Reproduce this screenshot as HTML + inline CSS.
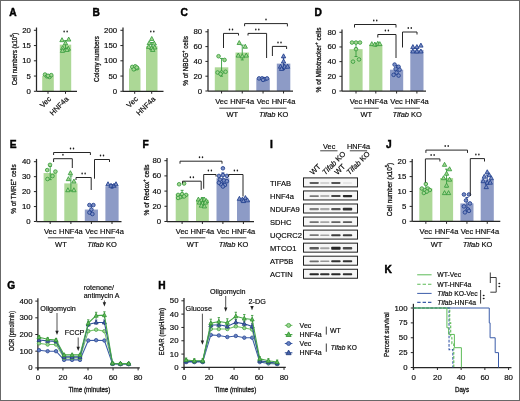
<!DOCTYPE html>
<html><head><meta charset="utf-8"><style>
html,body{margin:0;padding:0;background:#fff;}
svg{display:block;font-family:'Liberation Sans', sans-serif;will-change:transform;}
text{stroke:#1e1e1e;stroke-width:0.18px;}
text[font-weight=bold]{stroke-width:0;}
text.t{stroke-width:0.3px;}
text.pl{stroke:#000;stroke-width:0.45px;}
</style></head><body>
<svg width="520" height="401" viewBox="0 0 520 401">
<defs><filter id="bl" x="-50%" y="-100%" width="200%" height="300%"><feGaussianBlur stdDeviation="0.45"/></filter></defs>
<rect width="520" height="401" fill="#fff"/>
<text x="9.2" y="16.2" font-size="10.2" font-weight="bold" fill="#000" class="pl">A</text>
<line x1="36.5" y1="91.3" x2="36.5" y2="27.5" stroke="#262626" stroke-width="1.25"/>
<line x1="33.9" y1="91.3" x2="36.5" y2="91.3" stroke="#262626" stroke-width="1"/>
<text x="30.9" y="93.8" font-size="7.8" text-anchor="end">0</text>
<line x1="33.9" y1="76.05" x2="36.5" y2="76.05" stroke="#262626" stroke-width="1"/>
<text x="30.9" y="78.55" font-size="7.8" text-anchor="end">5</text>
<line x1="33.9" y1="60.8" x2="36.5" y2="60.8" stroke="#262626" stroke-width="1"/>
<text x="30.9" y="63.3" font-size="7.8" text-anchor="end">10</text>
<line x1="33.9" y1="45.55" x2="36.5" y2="45.55" stroke="#262626" stroke-width="1"/>
<text x="30.9" y="48.05" font-size="7.8" text-anchor="end">15</text>
<line x1="33.9" y1="30.3" x2="36.5" y2="30.3" stroke="#262626" stroke-width="1"/>
<text x="30.9" y="32.8" font-size="7.8" text-anchor="end">20</text>
<text x="17" y="59" font-size="7.9" text-anchor="middle" transform="rotate(-90 17 59)" textLength="52.5" lengthAdjust="spacingAndGlyphs" class="t">Cell numbers (x10<tspan font-size="5" dy="-3">5</tspan><tspan dy="3">)</tspan></text>
<rect x="42.2" y="75.75" width="11.6" height="15.55" fill="#acd896"/>
<line x1="48" y1="76.81" x2="48" y2="74.68" stroke="#369c3c" stroke-width="0.9"/>
<line x1="46.5" y1="74.68" x2="49.5" y2="74.68" stroke="#369c3c" stroke-width="0.9"/>
<line x1="46.5" y1="76.81" x2="49.5" y2="76.81" stroke="#369c3c" stroke-width="0.9"/>
<circle cx="45" cy="74.53" r="1.8" fill="#a5d693" stroke="#369c3c" stroke-width="0.85"/>
<circle cx="47" cy="76.35" r="1.8" fill="#a5d693" stroke="#369c3c" stroke-width="0.85"/>
<circle cx="49.5" cy="76.97" r="1.8" fill="#a5d693" stroke="#369c3c" stroke-width="0.85"/>
<circle cx="51.3" cy="75.13" r="1.8" fill="#a5d693" stroke="#369c3c" stroke-width="0.85"/>
<circle cx="48" cy="75.75" r="1.8" fill="#a5d693" stroke="#369c3c" stroke-width="0.85"/>
<rect x="59.8" y="44.63" width="11.4" height="46.66" fill="#acd896"/>
<line x1="65.5" y1="48.6" x2="65.5" y2="40.67" stroke="#369c3c" stroke-width="0.9"/>
<line x1="64" y1="40.67" x2="67" y2="40.67" stroke="#369c3c" stroke-width="0.9"/>
<line x1="64" y1="48.6" x2="67" y2="48.6" stroke="#369c3c" stroke-width="0.9"/>
<polygon points="62,37.68 64.16,41.68 59.84,41.68" fill="#a5d693" stroke="#369c3c" stroke-width="0.85" stroke-linejoin="round"/>
<polygon points="68.7,37.07 70.86,41.07 66.54,41.07" fill="#a5d693" stroke="#369c3c" stroke-width="0.85" stroke-linejoin="round"/>
<polygon points="65.5,40.73 67.66,44.73 63.34,44.73" fill="#a5d693" stroke="#369c3c" stroke-width="0.85" stroke-linejoin="round"/>
<polygon points="62.7,45.61 64.86,49.61 60.54,49.61" fill="#a5d693" stroke="#369c3c" stroke-width="0.85" stroke-linejoin="round"/>
<polygon points="68.3,46.22 70.46,50.22 66.14,50.22" fill="#a5d693" stroke="#369c3c" stroke-width="0.85" stroke-linejoin="round"/>
<polygon points="62.5,48.36 64.66,52.35 60.34,52.35" fill="#a5d693" stroke="#369c3c" stroke-width="0.85" stroke-linejoin="round"/>
<polygon points="67,47.44 69.16,51.44 64.84,51.44" fill="#a5d693" stroke="#369c3c" stroke-width="0.85" stroke-linejoin="round"/>
<line x1="36.5" y1="91.3" x2="77" y2="91.3" stroke="#262626" stroke-width="1.25"/>
<line x1="48" y1="91.3" x2="48" y2="93.8" stroke="#262626" stroke-width="1"/>
<line x1="65.5" y1="91.3" x2="65.5" y2="93.8" stroke="#262626" stroke-width="1"/>
<ellipse cx="64.1" cy="31.6" rx="0.75" ry="1.0" fill="#1a1a1a"/>
<ellipse cx="67.1" cy="31.6" rx="0.75" ry="1.0" fill="#1a1a1a"/>
<text x="51.6" y="99.5" font-size="7.4" text-anchor="end" transform="rotate(-45 51.6 99.5)">Vec</text>
<text x="69.2" y="99.5" font-size="7.4" text-anchor="end" transform="rotate(-45 69.2 99.5)">HNF4a</text>
<text x="92.5" y="16.2" font-size="10.2" font-weight="bold" fill="#000" class="pl">B</text>
<line x1="123" y1="91.3" x2="123" y2="27.5" stroke="#262626" stroke-width="1.25"/>
<line x1="120.4" y1="91.3" x2="123" y2="91.3" stroke="#262626" stroke-width="1"/>
<text x="117.1" y="93.8" font-size="7.8" text-anchor="end">0</text>
<line x1="120.4" y1="76.05" x2="123" y2="76.05" stroke="#262626" stroke-width="1"/>
<text x="117.1" y="78.55" font-size="7.8" text-anchor="end">50</text>
<line x1="120.4" y1="60.8" x2="123" y2="60.8" stroke="#262626" stroke-width="1"/>
<text x="117.1" y="63.3" font-size="7.8" text-anchor="end">100</text>
<line x1="120.4" y1="45.55" x2="123" y2="45.55" stroke="#262626" stroke-width="1"/>
<text x="117.1" y="48.05" font-size="7.8" text-anchor="end">150</text>
<line x1="120.4" y1="30.3" x2="123" y2="30.3" stroke="#262626" stroke-width="1"/>
<text x="117.1" y="32.8" font-size="7.8" text-anchor="end">200</text>
<text x="98.8" y="59.1" font-size="7.9" text-anchor="middle" transform="rotate(-90 98.8 59.1)" textLength="45.8" lengthAdjust="spacingAndGlyphs" class="t">Colony numbers</text>
<rect x="129" y="68.42" width="11.5" height="22.88" fill="#acd896"/>
<line x1="134.75" y1="70.25" x2="134.75" y2="66.59" stroke="#369c3c" stroke-width="0.9"/>
<line x1="133.25" y1="66.59" x2="136.25" y2="66.59" stroke="#369c3c" stroke-width="0.9"/>
<line x1="133.25" y1="70.25" x2="136.25" y2="70.25" stroke="#369c3c" stroke-width="0.9"/>
<circle cx="132.25" cy="66.9" r="1.8" fill="#a5d693" stroke="#369c3c" stroke-width="0.85"/>
<circle cx="135.25" cy="66.29" r="1.8" fill="#a5d693" stroke="#369c3c" stroke-width="0.85"/>
<circle cx="137.25" cy="68.12" r="1.8" fill="#a5d693" stroke="#369c3c" stroke-width="0.85"/>
<circle cx="133.75" cy="69.34" r="1.8" fill="#a5d693" stroke="#369c3c" stroke-width="0.85"/>
<circle cx="136.75" cy="67.51" r="1.8" fill="#a5d693" stroke="#369c3c" stroke-width="0.85"/>
<rect x="146" y="46.16" width="11.5" height="45.14" fill="#acd896"/>
<line x1="151.75" y1="49.82" x2="151.75" y2="42.5" stroke="#369c3c" stroke-width="0.9"/>
<line x1="150.25" y1="42.5" x2="153.25" y2="42.5" stroke="#369c3c" stroke-width="0.9"/>
<line x1="150.25" y1="49.82" x2="153.25" y2="49.82" stroke="#369c3c" stroke-width="0.9"/>
<polygon points="151.75,36.46 153.91,40.46 149.59,40.46" fill="#a5d693" stroke="#369c3c" stroke-width="0.85" stroke-linejoin="round"/>
<polygon points="149.25,40.73 151.41,44.73 147.09,44.73" fill="#a5d693" stroke="#369c3c" stroke-width="0.85" stroke-linejoin="round"/>
<polygon points="154.25,41.04 156.41,45.03 152.09,45.03" fill="#a5d693" stroke="#369c3c" stroke-width="0.85" stroke-linejoin="round"/>
<polygon points="148.75,44.39 150.91,48.39 146.59,48.39" fill="#a5d693" stroke="#369c3c" stroke-width="0.85" stroke-linejoin="round"/>
<polygon points="151.75,45.61 153.91,49.61 149.59,49.61" fill="#a5d693" stroke="#369c3c" stroke-width="0.85" stroke-linejoin="round"/>
<polygon points="154.75,45 156.91,49 152.59,49" fill="#a5d693" stroke="#369c3c" stroke-width="0.85" stroke-linejoin="round"/>
<polygon points="152.75,47.44 154.91,51.44 150.59,51.44" fill="#a5d693" stroke="#369c3c" stroke-width="0.85" stroke-linejoin="round"/>
<line x1="123" y1="91.3" x2="163.5" y2="91.3" stroke="#262626" stroke-width="1.25"/>
<line x1="134.7" y1="91.3" x2="134.7" y2="93.8" stroke="#262626" stroke-width="1"/>
<line x1="151.7" y1="91.3" x2="151.7" y2="93.8" stroke="#262626" stroke-width="1"/>
<ellipse cx="150.8" cy="31.6" rx="0.75" ry="1.0" fill="#1a1a1a"/>
<ellipse cx="153.8" cy="31.6" rx="0.75" ry="1.0" fill="#1a1a1a"/>
<text x="138.3" y="99.5" font-size="7.4" text-anchor="end" transform="rotate(-45 138.3 99.5)">Vec</text>
<text x="155.9" y="99.5" font-size="7.4" text-anchor="end" transform="rotate(-45 155.9 99.5)">HNF4a</text>
<text x="180.5" y="16.2" font-size="10.2" font-weight="bold" fill="#000" class="pl">C</text>
<text x="188" y="60.9" font-size="7.9" text-anchor="middle" transform="rotate(-90 188 60.9)" textLength="49.6" lengthAdjust="spacingAndGlyphs" class="t">% of NBDG<tspan font-size="5" dy="-3">+</tspan><tspan dy="3"> cells</tspan></text>
<line x1="208" y1="91" x2="208" y2="29" stroke="#262626" stroke-width="1.25"/>
<line x1="205.4" y1="91" x2="208" y2="91" stroke="#262626" stroke-width="1"/>
<text x="202.1" y="93.5" font-size="7.8" text-anchor="end">0</text>
<line x1="205.4" y1="76.2" x2="208" y2="76.2" stroke="#262626" stroke-width="1"/>
<text x="202.1" y="78.7" font-size="7.8" text-anchor="end">20</text>
<line x1="205.4" y1="61.4" x2="208" y2="61.4" stroke="#262626" stroke-width="1"/>
<text x="202.1" y="63.9" font-size="7.8" text-anchor="end">40</text>
<line x1="205.4" y1="46.6" x2="208" y2="46.6" stroke="#262626" stroke-width="1"/>
<text x="202.1" y="49.1" font-size="7.8" text-anchor="end">60</text>
<line x1="205.4" y1="31.8" x2="208" y2="31.8" stroke="#262626" stroke-width="1"/>
<text x="202.1" y="34.3" font-size="7.8" text-anchor="end">80</text>
<rect x="214.8" y="67.32" width="13.5" height="23.68" fill="#acd896"/>
<line x1="221.55" y1="76.2" x2="221.55" y2="58.44" stroke="#369c3c" stroke-width="0.9"/>
<line x1="220.05" y1="58.44" x2="223.05" y2="58.44" stroke="#369c3c" stroke-width="0.9"/>
<line x1="220.05" y1="76.2" x2="223.05" y2="76.2" stroke="#369c3c" stroke-width="0.9"/>
<circle cx="218.55" cy="56.22" r="1.8" fill="#a5d693" stroke="#369c3c" stroke-width="0.85"/>
<circle cx="224.55" cy="59.92" r="1.8" fill="#a5d693" stroke="#369c3c" stroke-width="0.85"/>
<circle cx="221.55" cy="72.5" r="1.8" fill="#a5d693" stroke="#369c3c" stroke-width="0.85"/>
<circle cx="217.55" cy="72.5" r="1.8" fill="#a5d693" stroke="#369c3c" stroke-width="0.85"/>
<circle cx="225.55" cy="71.76" r="1.8" fill="#a5d693" stroke="#369c3c" stroke-width="0.85"/>
<circle cx="220.55" cy="73.98" r="1.8" fill="#a5d693" stroke="#369c3c" stroke-width="0.85"/>
<rect x="235.5" y="52.52" width="13.5" height="38.48" fill="#acd896"/>
<line x1="242.25" y1="59.92" x2="242.25" y2="45.12" stroke="#369c3c" stroke-width="0.9"/>
<line x1="240.75" y1="45.12" x2="243.75" y2="45.12" stroke="#369c3c" stroke-width="0.9"/>
<line x1="240.75" y1="59.92" x2="243.75" y2="59.92" stroke="#369c3c" stroke-width="0.9"/>
<polygon points="239.25,40.52 241.41,44.52 237.09,44.52" fill="#a5d693" stroke="#369c3c" stroke-width="0.85" stroke-linejoin="round"/>
<polygon points="245.25,44.22 247.41,48.22 243.09,48.22" fill="#a5d693" stroke="#369c3c" stroke-width="0.85" stroke-linejoin="round"/>
<polygon points="238.25,53.1 240.41,57.1 236.09,57.1" fill="#a5d693" stroke="#369c3c" stroke-width="0.85" stroke-linejoin="round"/>
<polygon points="242.25,53.84 244.41,57.84 240.09,57.84" fill="#a5d693" stroke="#369c3c" stroke-width="0.85" stroke-linejoin="round"/>
<polygon points="246.25,53.1 248.41,57.1 244.09,57.1" fill="#a5d693" stroke="#369c3c" stroke-width="0.85" stroke-linejoin="round"/>
<rect x="256.3" y="78.42" width="13.5" height="12.58" fill="#8d9bc6"/>
<line x1="263.05" y1="79.53" x2="263.05" y2="77.31" stroke="#1f3d8c" stroke-width="0.9"/>
<line x1="261.55" y1="77.31" x2="264.55" y2="77.31" stroke="#1f3d8c" stroke-width="0.9"/>
<line x1="261.55" y1="79.53" x2="264.55" y2="79.53" stroke="#1f3d8c" stroke-width="0.9"/>
<circle cx="259.05" cy="78.42" r="1.8" fill="#7d8fc4" stroke="#1f3d8c" stroke-width="0.85"/>
<circle cx="262.05" cy="78.42" r="1.8" fill="#7d8fc4" stroke="#1f3d8c" stroke-width="0.85"/>
<circle cx="265.05" cy="79.16" r="1.8" fill="#7d8fc4" stroke="#1f3d8c" stroke-width="0.85"/>
<circle cx="267.05" cy="78.42" r="1.8" fill="#7d8fc4" stroke="#1f3d8c" stroke-width="0.85"/>
<circle cx="263.05" cy="79.9" r="1.8" fill="#7d8fc4" stroke="#1f3d8c" stroke-width="0.85"/>
<rect x="276.8" y="63.62" width="13.5" height="27.38" fill="#8d9bc6"/>
<line x1="283.55" y1="69.54" x2="283.55" y2="57.7" stroke="#1f3d8c" stroke-width="0.9"/>
<line x1="282.05" y1="57.7" x2="285.05" y2="57.7" stroke="#1f3d8c" stroke-width="0.9"/>
<line x1="282.05" y1="69.54" x2="285.05" y2="69.54" stroke="#1f3d8c" stroke-width="0.9"/>
<polygon points="283.55,53.84 285.71,57.84 281.39,57.84" fill="#7d8fc4" stroke="#1f3d8c" stroke-width="0.85" stroke-linejoin="round"/>
<polygon points="283.55,59.02 285.71,63.02 281.39,63.02" fill="#7d8fc4" stroke="#1f3d8c" stroke-width="0.85" stroke-linejoin="round"/>
<polygon points="280.55,64.2 282.71,68.2 278.39,68.2" fill="#7d8fc4" stroke="#1f3d8c" stroke-width="0.85" stroke-linejoin="round"/>
<polygon points="284.55,64.2 286.71,68.2 282.39,68.2" fill="#7d8fc4" stroke="#1f3d8c" stroke-width="0.85" stroke-linejoin="round"/>
<polygon points="287.55,64.2 289.71,68.2 285.39,68.2" fill="#7d8fc4" stroke="#1f3d8c" stroke-width="0.85" stroke-linejoin="round"/>
<polygon points="281.55,66.42 283.71,70.42 279.39,70.42" fill="#7d8fc4" stroke="#1f3d8c" stroke-width="0.85" stroke-linejoin="round"/>
<line x1="208" y1="91" x2="293" y2="91" stroke="#262626" stroke-width="1.25"/>
<line x1="221.55" y1="91" x2="221.55" y2="93.5" stroke="#262626" stroke-width="1"/>
<line x1="242.25" y1="91" x2="242.25" y2="93.5" stroke="#262626" stroke-width="1"/>
<line x1="263.05" y1="91" x2="263.05" y2="93.5" stroke="#262626" stroke-width="1"/>
<line x1="283.55" y1="91" x2="283.55" y2="93.5" stroke="#262626" stroke-width="1"/>
<text x="221.55" y="104" font-size="7.5" text-anchor="middle">Vec</text>
<text x="242.25" y="104" font-size="7.5" text-anchor="middle">HNF4a</text>
<text x="263.05" y="104" font-size="7.5" text-anchor="middle">Vec</text>
<text x="283.55" y="104" font-size="7.5" text-anchor="middle">HNF4a</text>
<line x1="219.25" y1="108.2" x2="245.25" y2="108.2" stroke="#444" stroke-width="1"/>
<line x1="260.75" y1="108.2" x2="286.55" y2="108.2" stroke="#444" stroke-width="1"/>
<text x="232.3" y="117" font-size="7.5" text-anchor="middle">WT</text>
<text x="273.7" y="117" font-size="7.5" text-anchor="middle"><tspan font-style="italic">Tifab</tspan> KO</text>
<polyline points="223.5,48 223.5,33.4 238.5,33.4 238.5,35.5" fill="none" stroke="#262626" stroke-width="1"/>
<ellipse cx="229.5" cy="29.4" rx="0.75" ry="1.0" fill="#1a1a1a"/>
<ellipse cx="232.5" cy="29.4" rx="0.75" ry="1.0" fill="#1a1a1a"/>
<polyline points="244.6,26.2 244.6,23.6 287.4,23.6 287.4,26.4" fill="none" stroke="#262626" stroke-width="1"/>
<ellipse cx="266" cy="19.6" rx="0.75" ry="1.0" fill="#1a1a1a"/>
<polyline points="248,35.5 248,33.4 266.6,33.4 266.6,58" fill="none" stroke="#262626" stroke-width="1"/>
<ellipse cx="255.8" cy="29.4" rx="0.75" ry="1.0" fill="#1a1a1a"/>
<ellipse cx="258.8" cy="29.4" rx="0.75" ry="1.0" fill="#1a1a1a"/>
<polyline points="272.4,56 272.4,46.4 286.6,46.4 286.6,49" fill="none" stroke="#262626" stroke-width="1"/>
<ellipse cx="278" cy="42.4" rx="0.75" ry="1.0" fill="#1a1a1a"/>
<ellipse cx="281" cy="42.4" rx="0.75" ry="1.0" fill="#1a1a1a"/>
<text x="314.5" y="16.2" font-size="10.2" font-weight="bold" fill="#000" class="pl">D</text>
<text x="321" y="59.9" font-size="7.9" text-anchor="middle" transform="rotate(-90 321 59.9)" textLength="65" lengthAdjust="spacingAndGlyphs" class="t">% of Mitotracker<tspan font-size="5" dy="-3">+</tspan><tspan dy="3"> cells</tspan></text>
<line x1="342" y1="91" x2="342" y2="29.48" stroke="#262626" stroke-width="1.25"/>
<line x1="339.4" y1="91" x2="342" y2="91" stroke="#262626" stroke-width="1"/>
<text x="336.1" y="93.5" font-size="7.8" text-anchor="end">0</text>
<line x1="339.4" y1="76.32" x2="342" y2="76.32" stroke="#262626" stroke-width="1"/>
<text x="336.1" y="78.82" font-size="7.8" text-anchor="end">20</text>
<line x1="339.4" y1="61.64" x2="342" y2="61.64" stroke="#262626" stroke-width="1"/>
<text x="336.1" y="64.14" font-size="7.8" text-anchor="end">40</text>
<line x1="339.4" y1="46.96" x2="342" y2="46.96" stroke="#262626" stroke-width="1"/>
<text x="336.1" y="49.46" font-size="7.8" text-anchor="end">60</text>
<line x1="339.4" y1="32.28" x2="342" y2="32.28" stroke="#262626" stroke-width="1"/>
<text x="336.1" y="34.78" font-size="7.8" text-anchor="end">80</text>
<rect x="349.4" y="49.16" width="13.2" height="41.84" fill="#acd896"/>
<line x1="356" y1="56.5" x2="356" y2="41.82" stroke="#369c3c" stroke-width="0.9"/>
<line x1="354.5" y1="41.82" x2="357.5" y2="41.82" stroke="#369c3c" stroke-width="0.9"/>
<line x1="354.5" y1="56.5" x2="357.5" y2="56.5" stroke="#369c3c" stroke-width="0.9"/>
<circle cx="352" cy="42.56" r="1.8" fill="#a5d693" stroke="#369c3c" stroke-width="0.85"/>
<circle cx="356" cy="42.56" r="1.8" fill="#a5d693" stroke="#369c3c" stroke-width="0.85"/>
<circle cx="360" cy="42.56" r="1.8" fill="#a5d693" stroke="#369c3c" stroke-width="0.85"/>
<circle cx="356" cy="49.16" r="1.8" fill="#a5d693" stroke="#369c3c" stroke-width="0.85"/>
<circle cx="359" cy="59.44" r="1.8" fill="#a5d693" stroke="#369c3c" stroke-width="0.85"/>
<circle cx="353" cy="61.64" r="1.8" fill="#a5d693" stroke="#369c3c" stroke-width="0.85"/>
<rect x="369.2" y="44.76" width="13.2" height="46.24" fill="#acd896"/>
<line x1="375.8" y1="46.23" x2="375.8" y2="43.29" stroke="#369c3c" stroke-width="0.9"/>
<line x1="374.3" y1="43.29" x2="377.3" y2="43.29" stroke="#369c3c" stroke-width="0.9"/>
<line x1="374.3" y1="46.23" x2="377.3" y2="46.23" stroke="#369c3c" stroke-width="0.9"/>
<polygon points="371.8,41.65 373.96,45.64 369.64,45.64" fill="#a5d693" stroke="#369c3c" stroke-width="0.85" stroke-linejoin="round"/>
<polygon points="374.8,42.02 376.96,46.01 372.64,46.01" fill="#a5d693" stroke="#369c3c" stroke-width="0.85" stroke-linejoin="round"/>
<polygon points="377.8,41.28 379.96,45.28 375.64,45.28" fill="#a5d693" stroke="#369c3c" stroke-width="0.85" stroke-linejoin="round"/>
<polygon points="379.8,41.65 381.96,45.64 377.64,45.64" fill="#a5d693" stroke="#369c3c" stroke-width="0.85" stroke-linejoin="round"/>
<rect x="390" y="69.71" width="13.2" height="21.29" fill="#8d9bc6"/>
<line x1="396.6" y1="74.12" x2="396.6" y2="65.31" stroke="#1f3d8c" stroke-width="0.9"/>
<line x1="395.1" y1="65.31" x2="398.1" y2="65.31" stroke="#1f3d8c" stroke-width="0.9"/>
<line x1="395.1" y1="74.12" x2="398.1" y2="74.12" stroke="#1f3d8c" stroke-width="0.9"/>
<circle cx="394.6" cy="64.58" r="1.8" fill="#7d8fc4" stroke="#1f3d8c" stroke-width="0.85"/>
<circle cx="398.6" cy="66.78" r="1.8" fill="#7d8fc4" stroke="#1f3d8c" stroke-width="0.85"/>
<circle cx="395.6" cy="68.98" r="1.8" fill="#7d8fc4" stroke="#1f3d8c" stroke-width="0.85"/>
<circle cx="399.6" cy="69.71" r="1.8" fill="#7d8fc4" stroke="#1f3d8c" stroke-width="0.85"/>
<circle cx="396.6" cy="72.65" r="1.8" fill="#7d8fc4" stroke="#1f3d8c" stroke-width="0.85"/>
<circle cx="393.6" cy="74.85" r="1.8" fill="#7d8fc4" stroke="#1f3d8c" stroke-width="0.85"/>
<circle cx="398.6" cy="75.59" r="1.8" fill="#7d8fc4" stroke="#1f3d8c" stroke-width="0.85"/>
<rect x="410.3" y="49.9" width="13.2" height="41.1" fill="#8d9bc6"/>
<line x1="416.9" y1="52.83" x2="416.9" y2="46.96" stroke="#1f3d8c" stroke-width="0.9"/>
<line x1="415.4" y1="46.96" x2="418.4" y2="46.96" stroke="#1f3d8c" stroke-width="0.9"/>
<line x1="415.4" y1="52.83" x2="418.4" y2="52.83" stroke="#1f3d8c" stroke-width="0.9"/>
<polygon points="412.9,44.58 415.06,48.58 410.74,48.58" fill="#7d8fc4" stroke="#1f3d8c" stroke-width="0.85" stroke-linejoin="round"/>
<polygon points="416.9,44.58 419.06,48.58 414.74,48.58" fill="#7d8fc4" stroke="#1f3d8c" stroke-width="0.85" stroke-linejoin="round"/>
<polygon points="420.9,43.12 423.06,47.11 418.74,47.11" fill="#7d8fc4" stroke="#1f3d8c" stroke-width="0.85" stroke-linejoin="round"/>
<polygon points="412.9,48.99 415.06,52.98 410.74,52.98" fill="#7d8fc4" stroke="#1f3d8c" stroke-width="0.85" stroke-linejoin="round"/>
<polygon points="416.9,48.99 419.06,52.98 414.74,52.98" fill="#7d8fc4" stroke="#1f3d8c" stroke-width="0.85" stroke-linejoin="round"/>
<polygon points="420.9,48.99 423.06,52.98 418.74,52.98" fill="#7d8fc4" stroke="#1f3d8c" stroke-width="0.85" stroke-linejoin="round"/>
<line x1="342" y1="91" x2="426" y2="91" stroke="#262626" stroke-width="1.25"/>
<line x1="356" y1="91" x2="356" y2="93.5" stroke="#262626" stroke-width="1"/>
<line x1="375.8" y1="91" x2="375.8" y2="93.5" stroke="#262626" stroke-width="1"/>
<line x1="396.6" y1="91" x2="396.6" y2="93.5" stroke="#262626" stroke-width="1"/>
<line x1="416.9" y1="91" x2="416.9" y2="93.5" stroke="#262626" stroke-width="1"/>
<text x="356" y="104" font-size="7.5" text-anchor="middle">Vec</text>
<text x="375.8" y="104" font-size="7.5" text-anchor="middle">HNF4a</text>
<text x="396.6" y="104" font-size="7.5" text-anchor="middle">Vec</text>
<text x="416.9" y="104" font-size="7.5" text-anchor="middle">HNF4a</text>
<line x1="353.7" y1="108.2" x2="378.8" y2="108.2" stroke="#444" stroke-width="1"/>
<line x1="394.3" y1="108.2" x2="419.9" y2="108.2" stroke="#444" stroke-width="1"/>
<text x="366.3" y="117" font-size="7.5" text-anchor="middle">WT</text>
<text x="407.15" y="117" font-size="7.5" text-anchor="middle"><tspan font-style="italic">Tifab</tspan> KO</text>
<polyline points="354.5,27.5 354.5,24.5 396,24.5 396,27.5" fill="none" stroke="#262626" stroke-width="1"/>
<ellipse cx="373.75" cy="20.5" rx="0.75" ry="1.0" fill="#1a1a1a"/>
<ellipse cx="376.75" cy="20.5" rx="0.75" ry="1.0" fill="#1a1a1a"/>
<polyline points="377.8,37.5 377.8,34.5 396,34.5 396,58" fill="none" stroke="#262626" stroke-width="1"/>
<ellipse cx="385.4" cy="30.5" rx="0.75" ry="1.0" fill="#1a1a1a"/>
<ellipse cx="388.4" cy="30.5" rx="0.75" ry="1.0" fill="#1a1a1a"/>
<polyline points="402.5,47.5 402.5,32 417,32 417,34.5" fill="none" stroke="#262626" stroke-width="1"/>
<ellipse cx="408.25" cy="28" rx="0.75" ry="1.0" fill="#1a1a1a"/>
<ellipse cx="411.25" cy="28" rx="0.75" ry="1.0" fill="#1a1a1a"/>
<text x="9.8" y="148.2" font-size="10.2" font-weight="bold" fill="#000" class="pl">E</text>
<text x="16.3" y="189" font-size="7.9" text-anchor="middle" transform="rotate(-90 16.3 189)" textLength="49.3" lengthAdjust="spacingAndGlyphs" class="t">% of TMRE<tspan font-size="5" dy="-3">+</tspan><tspan dy="3"> cells</tspan></text>
<line x1="36.5" y1="221.5" x2="36.5" y2="158.9" stroke="#262626" stroke-width="1.25"/>
<line x1="33.9" y1="221.5" x2="36.5" y2="221.5" stroke="#262626" stroke-width="1"/>
<text x="30.6" y="224" font-size="7.8" text-anchor="end">0</text>
<line x1="33.9" y1="206.55" x2="36.5" y2="206.55" stroke="#262626" stroke-width="1"/>
<text x="30.6" y="209.05" font-size="7.8" text-anchor="end">10</text>
<line x1="33.9" y1="191.6" x2="36.5" y2="191.6" stroke="#262626" stroke-width="1"/>
<text x="30.6" y="194.1" font-size="7.8" text-anchor="end">20</text>
<line x1="33.9" y1="176.65" x2="36.5" y2="176.65" stroke="#262626" stroke-width="1"/>
<text x="30.6" y="179.15" font-size="7.8" text-anchor="end">30</text>
<line x1="33.9" y1="161.7" x2="36.5" y2="161.7" stroke="#262626" stroke-width="1"/>
<text x="30.6" y="164.2" font-size="7.8" text-anchor="end">40</text>
<rect x="43.6" y="173.06" width="13.2" height="48.44" fill="#acd896"/>
<line x1="50.2" y1="179.64" x2="50.2" y2="166.48" stroke="#369c3c" stroke-width="0.9"/>
<line x1="48.7" y1="166.48" x2="51.7" y2="166.48" stroke="#369c3c" stroke-width="0.9"/>
<line x1="48.7" y1="179.64" x2="51.7" y2="179.64" stroke="#369c3c" stroke-width="0.9"/>
<circle cx="50" cy="164.84" r="1.8" fill="#a5d693" stroke="#369c3c" stroke-width="0.85"/>
<circle cx="47.2" cy="170.07" r="1.8" fill="#a5d693" stroke="#369c3c" stroke-width="0.85"/>
<circle cx="55.4" cy="171.57" r="1.8" fill="#a5d693" stroke="#369c3c" stroke-width="0.85"/>
<circle cx="52.5" cy="176.05" r="1.8" fill="#a5d693" stroke="#369c3c" stroke-width="0.85"/>
<circle cx="47.5" cy="179.04" r="1.8" fill="#a5d693" stroke="#369c3c" stroke-width="0.85"/>
<rect x="64.3" y="183.38" width="13.2" height="38.12" fill="#acd896"/>
<line x1="70.9" y1="190.85" x2="70.9" y2="175.9" stroke="#369c3c" stroke-width="0.9"/>
<line x1="69.4" y1="175.9" x2="72.4" y2="175.9" stroke="#369c3c" stroke-width="0.9"/>
<line x1="69.4" y1="190.85" x2="72.4" y2="190.85" stroke="#369c3c" stroke-width="0.9"/>
<polygon points="70.4,170.69 72.56,174.68 68.24,174.68" fill="#a5d693" stroke="#369c3c" stroke-width="0.85" stroke-linejoin="round"/>
<polygon points="68.4,176.67 70.56,180.66 66.24,180.66" fill="#a5d693" stroke="#369c3c" stroke-width="0.85" stroke-linejoin="round"/>
<polygon points="73.9,179.06 76.06,183.05 71.74,183.05" fill="#a5d693" stroke="#369c3c" stroke-width="0.85" stroke-linejoin="round"/>
<polygon points="67.9,187.73 70.06,191.72 65.74,191.72" fill="#a5d693" stroke="#369c3c" stroke-width="0.85" stroke-linejoin="round"/>
<polygon points="73.9,187.73 76.06,191.72 71.74,191.72" fill="#a5d693" stroke="#369c3c" stroke-width="0.85" stroke-linejoin="round"/>
<rect x="84.8" y="209.54" width="13.2" height="11.96" fill="#8d9bc6"/>
<line x1="91.4" y1="214.03" x2="91.4" y2="205.06" stroke="#1f3d8c" stroke-width="0.9"/>
<line x1="89.9" y1="205.06" x2="92.9" y2="205.06" stroke="#1f3d8c" stroke-width="0.9"/>
<line x1="89.9" y1="214.03" x2="92.9" y2="214.03" stroke="#1f3d8c" stroke-width="0.9"/>
<circle cx="89.4" cy="205.06" r="1.8" fill="#7d8fc4" stroke="#1f3d8c" stroke-width="0.85"/>
<circle cx="93.4" cy="205.06" r="1.8" fill="#7d8fc4" stroke="#1f3d8c" stroke-width="0.85"/>
<circle cx="91.4" cy="209.54" r="1.8" fill="#7d8fc4" stroke="#1f3d8c" stroke-width="0.85"/>
<circle cx="89.4" cy="212.53" r="1.8" fill="#7d8fc4" stroke="#1f3d8c" stroke-width="0.85"/>
<circle cx="92.4" cy="214.03" r="1.8" fill="#7d8fc4" stroke="#1f3d8c" stroke-width="0.85"/>
<rect x="105.4" y="186.37" width="13.2" height="35.13" fill="#8d9bc6"/>
<line x1="112" y1="188.16" x2="112" y2="184.57" stroke="#1f3d8c" stroke-width="0.9"/>
<line x1="110.5" y1="184.57" x2="113.5" y2="184.57" stroke="#1f3d8c" stroke-width="0.9"/>
<line x1="110.5" y1="188.16" x2="113.5" y2="188.16" stroke="#1f3d8c" stroke-width="0.9"/>
<polygon points="108,181.75 110.16,185.75 105.84,185.75" fill="#7d8fc4" stroke="#1f3d8c" stroke-width="0.85" stroke-linejoin="round"/>
<polygon points="111,183.24 113.16,187.24 108.84,187.24" fill="#7d8fc4" stroke="#1f3d8c" stroke-width="0.85" stroke-linejoin="round"/>
<polygon points="114,183.24 116.16,187.24 111.84,187.24" fill="#7d8fc4" stroke="#1f3d8c" stroke-width="0.85" stroke-linejoin="round"/>
<polygon points="116,181.75 118.16,185.75 113.84,185.75" fill="#7d8fc4" stroke="#1f3d8c" stroke-width="0.85" stroke-linejoin="round"/>
<line x1="36.5" y1="221.5" x2="121.5" y2="221.5" stroke="#262626" stroke-width="1.25"/>
<line x1="50.2" y1="221.5" x2="50.2" y2="224" stroke="#262626" stroke-width="1"/>
<line x1="70.9" y1="221.5" x2="70.9" y2="224" stroke="#262626" stroke-width="1"/>
<line x1="91.4" y1="221.5" x2="91.4" y2="224" stroke="#262626" stroke-width="1"/>
<line x1="112" y1="221.5" x2="112" y2="224" stroke="#262626" stroke-width="1"/>
<text x="50.2" y="233.6" font-size="7.5" text-anchor="middle">Vec</text>
<text x="70.9" y="233.6" font-size="7.5" text-anchor="middle">HNF4a</text>
<text x="91.4" y="233.6" font-size="7.5" text-anchor="middle">Vec</text>
<text x="112" y="233.6" font-size="7.5" text-anchor="middle">HNF4a</text>
<line x1="47.9" y1="237.8" x2="73.9" y2="237.8" stroke="#444" stroke-width="1"/>
<line x1="89.1" y1="237.8" x2="115" y2="237.8" stroke="#444" stroke-width="1"/>
<text x="60.95" y="246.6" font-size="7.5" text-anchor="middle">WT</text>
<text x="102.1" y="246.6" font-size="7.5" text-anchor="middle"><tspan font-style="italic">Tifab</tspan> KO</text>
<polyline points="53.6,155 53.6,152.5 90.4,152.5 90.4,155" fill="none" stroke="#262626" stroke-width="1"/>
<ellipse cx="70.5" cy="148.5" rx="0.75" ry="1.0" fill="#1a1a1a"/>
<ellipse cx="73.5" cy="148.5" rx="0.75" ry="1.0" fill="#1a1a1a"/>
<polyline points="53.6,162 53.6,158.7 72.3,158.7 72.3,168" fill="none" stroke="#262626" stroke-width="1"/>
<ellipse cx="62.95" cy="154.7" rx="0.75" ry="1.0" fill="#1a1a1a"/>
<polyline points="76,180 76,177.5 91.2,177.5 91.2,190" fill="none" stroke="#262626" stroke-width="1"/>
<ellipse cx="82.1" cy="173.5" rx="0.75" ry="1.0" fill="#1a1a1a"/>
<ellipse cx="85.1" cy="173.5" rx="0.75" ry="1.0" fill="#1a1a1a"/>
<polyline points="94.5,178.7 94.5,159.5 109.5,159.5 109.5,162" fill="none" stroke="#262626" stroke-width="1"/>
<ellipse cx="100.5" cy="155.5" rx="0.75" ry="1.0" fill="#1a1a1a"/>
<ellipse cx="103.5" cy="155.5" rx="0.75" ry="1.0" fill="#1a1a1a"/>
<text x="142.4" y="148.2" font-size="10.2" font-weight="bold" fill="#000" class="pl">F</text>
<text x="148.6" y="189.9" font-size="7.9" text-anchor="middle" transform="rotate(-90 148.6 189.9)" textLength="51" lengthAdjust="spacingAndGlyphs" class="t">% of Redox<tspan font-size="5" dy="-3">+</tspan><tspan dy="3"> cells</tspan></text>
<line x1="167" y1="221.5" x2="167" y2="157.9" stroke="#262626" stroke-width="1.25"/>
<line x1="164.4" y1="221.5" x2="167" y2="221.5" stroke="#262626" stroke-width="1"/>
<text x="161.1" y="224" font-size="7.8" text-anchor="end">0</text>
<line x1="164.4" y1="206.3" x2="167" y2="206.3" stroke="#262626" stroke-width="1"/>
<text x="161.1" y="208.8" font-size="7.8" text-anchor="end">20</text>
<line x1="164.4" y1="191.1" x2="167" y2="191.1" stroke="#262626" stroke-width="1"/>
<text x="161.1" y="193.6" font-size="7.8" text-anchor="end">40</text>
<line x1="164.4" y1="175.9" x2="167" y2="175.9" stroke="#262626" stroke-width="1"/>
<text x="161.1" y="178.4" font-size="7.8" text-anchor="end">60</text>
<line x1="164.4" y1="160.7" x2="167" y2="160.7" stroke="#262626" stroke-width="1"/>
<text x="161.1" y="163.2" font-size="7.8" text-anchor="end">80</text>
<rect x="175.7" y="194.14" width="12.8" height="27.36" fill="#acd896"/>
<line x1="182.1" y1="197.94" x2="182.1" y2="190.34" stroke="#369c3c" stroke-width="0.9"/>
<line x1="180.6" y1="190.34" x2="183.6" y2="190.34" stroke="#369c3c" stroke-width="0.9"/>
<line x1="180.6" y1="197.94" x2="183.6" y2="197.94" stroke="#369c3c" stroke-width="0.9"/>
<circle cx="179.1" cy="184.26" r="1.8" fill="#a5d693" stroke="#369c3c" stroke-width="0.85"/>
<circle cx="184.1" cy="183.5" r="1.8" fill="#a5d693" stroke="#369c3c" stroke-width="0.85"/>
<circle cx="178.1" cy="194.9" r="1.8" fill="#a5d693" stroke="#369c3c" stroke-width="0.85"/>
<circle cx="182.1" cy="194.14" r="1.8" fill="#a5d693" stroke="#369c3c" stroke-width="0.85"/>
<circle cx="186.1" cy="194.9" r="1.8" fill="#a5d693" stroke="#369c3c" stroke-width="0.85"/>
<circle cx="180.1" cy="197.18" r="1.8" fill="#a5d693" stroke="#369c3c" stroke-width="0.85"/>
<circle cx="184.1" cy="196.42" r="1.8" fill="#a5d693" stroke="#369c3c" stroke-width="0.85"/>
<circle cx="178.1" cy="197.94" r="1.8" fill="#a5d693" stroke="#369c3c" stroke-width="0.85"/>
<rect x="196" y="199.84" width="12.8" height="21.66" fill="#acd896"/>
<line x1="202.4" y1="202.12" x2="202.4" y2="197.56" stroke="#369c3c" stroke-width="0.9"/>
<line x1="200.9" y1="197.56" x2="203.9" y2="197.56" stroke="#369c3c" stroke-width="0.9"/>
<line x1="200.9" y1="202.12" x2="203.9" y2="202.12" stroke="#369c3c" stroke-width="0.9"/>
<polygon points="198.4,197.08 200.56,201.08 196.24,201.08" fill="#a5d693" stroke="#369c3c" stroke-width="0.85" stroke-linejoin="round"/>
<polygon points="201.4,197.84 203.56,201.84 199.24,201.84" fill="#a5d693" stroke="#369c3c" stroke-width="0.85" stroke-linejoin="round"/>
<polygon points="204.4,197.08 206.56,201.08 202.24,201.08" fill="#a5d693" stroke="#369c3c" stroke-width="0.85" stroke-linejoin="round"/>
<polygon points="206.4,198.6 208.56,202.6 204.24,202.6" fill="#a5d693" stroke="#369c3c" stroke-width="0.85" stroke-linejoin="round"/>
<polygon points="199.4,200.12 201.56,204.12 197.24,204.12" fill="#a5d693" stroke="#369c3c" stroke-width="0.85" stroke-linejoin="round"/>
<polygon points="202.4,200.88 204.56,204.88 200.24,204.88" fill="#a5d693" stroke="#369c3c" stroke-width="0.85" stroke-linejoin="round"/>
<polygon points="205.4,200.12 207.56,204.12 203.24,204.12" fill="#a5d693" stroke="#369c3c" stroke-width="0.85" stroke-linejoin="round"/>
<polygon points="201.4,203.16 203.56,207.16 199.24,207.16" fill="#a5d693" stroke="#369c3c" stroke-width="0.85" stroke-linejoin="round"/>
<polygon points="204.4,203.92 206.56,207.92 202.24,207.92" fill="#a5d693" stroke="#369c3c" stroke-width="0.85" stroke-linejoin="round"/>
<rect x="216.5" y="178.18" width="12.8" height="43.32" fill="#8d9bc6"/>
<line x1="222.9" y1="183.5" x2="222.9" y2="172.86" stroke="#1f3d8c" stroke-width="0.9"/>
<line x1="221.4" y1="172.86" x2="224.4" y2="172.86" stroke="#1f3d8c" stroke-width="0.9"/>
<line x1="221.4" y1="183.5" x2="224.4" y2="183.5" stroke="#1f3d8c" stroke-width="0.9"/>
<circle cx="222.9" cy="168.3" r="1.8" fill="#7d8fc4" stroke="#1f3d8c" stroke-width="0.85"/>
<circle cx="218.9" cy="175.9" r="1.8" fill="#7d8fc4" stroke="#1f3d8c" stroke-width="0.85"/>
<circle cx="222.9" cy="175.14" r="1.8" fill="#7d8fc4" stroke="#1f3d8c" stroke-width="0.85"/>
<circle cx="226.9" cy="175.9" r="1.8" fill="#7d8fc4" stroke="#1f3d8c" stroke-width="0.85"/>
<circle cx="219.9" cy="179.7" r="1.8" fill="#7d8fc4" stroke="#1f3d8c" stroke-width="0.85"/>
<circle cx="223.9" cy="180.46" r="1.8" fill="#7d8fc4" stroke="#1f3d8c" stroke-width="0.85"/>
<circle cx="226.9" cy="181.22" r="1.8" fill="#7d8fc4" stroke="#1f3d8c" stroke-width="0.85"/>
<circle cx="220.9" cy="184.26" r="1.8" fill="#7d8fc4" stroke="#1f3d8c" stroke-width="0.85"/>
<circle cx="224.9" cy="185.02" r="1.8" fill="#7d8fc4" stroke="#1f3d8c" stroke-width="0.85"/>
<circle cx="218.9" cy="182.74" r="1.8" fill="#7d8fc4" stroke="#1f3d8c" stroke-width="0.85"/>
<circle cx="222.9" cy="186.54" r="1.8" fill="#7d8fc4" stroke="#1f3d8c" stroke-width="0.85"/>
<rect x="237" y="200.22" width="12.8" height="21.28" fill="#8d9bc6"/>
<line x1="243.4" y1="201.74" x2="243.4" y2="198.7" stroke="#1f3d8c" stroke-width="0.9"/>
<line x1="241.9" y1="198.7" x2="244.9" y2="198.7" stroke="#1f3d8c" stroke-width="0.9"/>
<line x1="241.9" y1="201.74" x2="244.9" y2="201.74" stroke="#1f3d8c" stroke-width="0.9"/>
<polygon points="239.4,196.32 241.56,200.32 237.24,200.32" fill="#7d8fc4" stroke="#1f3d8c" stroke-width="0.85" stroke-linejoin="round"/>
<polygon points="242.4,197.08 244.56,201.08 240.24,201.08" fill="#7d8fc4" stroke="#1f3d8c" stroke-width="0.85" stroke-linejoin="round"/>
<polygon points="245.4,195.56 247.56,199.56 243.24,199.56" fill="#7d8fc4" stroke="#1f3d8c" stroke-width="0.85" stroke-linejoin="round"/>
<polygon points="247.4,197.84 249.56,201.84 245.24,201.84" fill="#7d8fc4" stroke="#1f3d8c" stroke-width="0.85" stroke-linejoin="round"/>
<polygon points="243.4,198.6 245.56,202.6 241.24,202.6" fill="#7d8fc4" stroke="#1f3d8c" stroke-width="0.85" stroke-linejoin="round"/>
<line x1="167" y1="221.5" x2="254" y2="221.5" stroke="#262626" stroke-width="1.25"/>
<line x1="182.1" y1="221.5" x2="182.1" y2="224" stroke="#262626" stroke-width="1"/>
<line x1="202.4" y1="221.5" x2="202.4" y2="224" stroke="#262626" stroke-width="1"/>
<line x1="222.9" y1="221.5" x2="222.9" y2="224" stroke="#262626" stroke-width="1"/>
<line x1="243.4" y1="221.5" x2="243.4" y2="224" stroke="#262626" stroke-width="1"/>
<text x="182.1" y="233.6" font-size="7.5" text-anchor="middle">Vec</text>
<text x="202.4" y="233.6" font-size="7.5" text-anchor="middle">HNF4a</text>
<text x="222.9" y="233.6" font-size="7.5" text-anchor="middle">Vec</text>
<text x="243.4" y="233.6" font-size="7.5" text-anchor="middle">HNF4a</text>
<line x1="179.8" y1="237.8" x2="205.4" y2="237.8" stroke="#444" stroke-width="1"/>
<line x1="220.6" y1="237.8" x2="246.4" y2="237.8" stroke="#444" stroke-width="1"/>
<text x="192.65" y="246.6" font-size="7.5" text-anchor="middle">WT</text>
<text x="233.55" y="246.6" font-size="7.5" text-anchor="middle"><tspan font-style="italic">Tifab</tspan> KO</text>
<polyline points="180,163.7 180,161.2 222,161.2 222,163.7" fill="none" stroke="#262626" stroke-width="1"/>
<ellipse cx="199.5" cy="157.2" rx="0.75" ry="1.0" fill="#1a1a1a"/>
<ellipse cx="202.5" cy="157.2" rx="0.75" ry="1.0" fill="#1a1a1a"/>
<polyline points="182.5,183.5 182.5,181.2 201.2,181.2 201.2,190" fill="none" stroke="#262626" stroke-width="1"/>
<ellipse cx="190.35" cy="177.2" rx="0.75" ry="1.0" fill="#1a1a1a"/>
<ellipse cx="193.35" cy="177.2" rx="0.75" ry="1.0" fill="#1a1a1a"/>
<polyline points="203.7,188.7 203.7,174.5 216,174.5 216,176.5" fill="none" stroke="#262626" stroke-width="1"/>
<ellipse cx="208.35" cy="170.5" rx="0.75" ry="1.0" fill="#1a1a1a"/>
<ellipse cx="211.35" cy="170.5" rx="0.75" ry="1.0" fill="#1a1a1a"/>
<polyline points="228.7,176.5 228.7,174.5 243,174.5 243,196.5" fill="none" stroke="#262626" stroke-width="1"/>
<ellipse cx="234.35" cy="170.5" rx="0.75" ry="1.0" fill="#1a1a1a"/>
<ellipse cx="237.35" cy="170.5" rx="0.75" ry="1.0" fill="#1a1a1a"/>
<text x="270" y="148.4" font-size="10.2" font-weight="bold" fill="#000" class="pl">I</text>
<text x="329.2" y="148.7" font-size="7.3" text-anchor="middle">Vec</text>
<line x1="320.2" y1="150.8" x2="337.5" y2="150.8" stroke="#444" stroke-width="1"/>
<text x="358.6" y="148.7" font-size="7.3" text-anchor="middle">HNF4a</text>
<line x1="349.8" y1="150.8" x2="367.1" y2="150.8" stroke="#444" stroke-width="1"/>
<text x="313" y="175.2" font-size="7.5" transform="rotate(-45 313 175.2)">WT</text>
<text x="325.3" y="175.2" font-size="7.5" transform="rotate(-45 325.3 175.2)"><tspan font-style="italic">Tifab</tspan> KO</text>
<text x="337.6" y="175.2" font-size="7.5" transform="rotate(-45 337.6 175.2)">WT</text>
<text x="349.6" y="175.2" font-size="7.5" transform="rotate(-45 349.6 175.2)"><tspan font-style="italic">Tifab</tspan> KO</text>
<text x="270" y="185.5" font-size="7.55">TIFAB</text>
<rect x="303.5" y="177.9" width="54" height="9" fill="#f6f6f6" stroke="#1e1e1e" stroke-width="1"/>
<rect x="309.5" y="182.1" width="9.4" height="1.8" rx="0.8" fill="rgb(95,95,95)" filter="url(#bl)"/>
<rect x="320.1" y="182.2" width="9.4" height="1.6" rx="0.8" fill="rgb(200,200,200)" filter="url(#bl)"/>
<rect x="331.2" y="182.1" width="9.4" height="1.8" rx="0.8" fill="rgb(85,85,85)" filter="url(#bl)"/>
<rect x="342.8" y="182.25" width="9.4" height="1.5" rx="0.8" fill="rgb(225,225,225)" filter="url(#bl)"/>
<text x="270" y="198.55" font-size="7.55">HNF4a</text>
<rect x="303.5" y="190.95" width="54" height="9" fill="#f6f6f6" stroke="#1e1e1e" stroke-width="1"/>
<rect x="309.5" y="195.15" width="9.4" height="1.8" rx="0.8" fill="rgb(120,120,120)" filter="url(#bl)"/>
<rect x="320.1" y="195.25" width="9.4" height="1.6" rx="0.8" fill="rgb(160,160,160)" filter="url(#bl)"/>
<rect x="331.2" y="195.05" width="9.4" height="2" rx="0.8" fill="rgb(70,70,70)" filter="url(#bl)"/>
<rect x="342.8" y="194.95" width="9.4" height="2.2" rx="0.8" fill="rgb(40,40,40)" filter="url(#bl)"/>
<text x="270" y="211.6" font-size="7.55">NDUFA9</text>
<rect x="303.5" y="204" width="54" height="9" fill="#f6f6f6" stroke="#1e1e1e" stroke-width="1"/>
<rect x="309.5" y="207.9" width="9.4" height="2.4" rx="0.8" fill="rgb(130,130,130)" filter="url(#bl)"/>
<rect x="320.1" y="207.9" width="9.4" height="2.4" rx="0.8" fill="rgb(170,170,170)" filter="url(#bl)"/>
<rect x="331.2" y="207.9" width="9.4" height="2.4" rx="0.8" fill="rgb(85,85,85)" filter="url(#bl)"/>
<rect x="342.8" y="207.7" width="9.4" height="2.8" rx="0.8" fill="rgb(50,50,50)" filter="url(#bl)"/>
<text x="270" y="224.65" font-size="7.55">SDHC</text>
<rect x="303.5" y="217.05" width="54" height="9" fill="#f6f6f6" stroke="#1e1e1e" stroke-width="1"/>
<rect x="309.5" y="221.3" width="9.4" height="1.7" rx="0.8" fill="rgb(115,115,115)" filter="url(#bl)"/>
<rect x="320.1" y="221.35" width="9.4" height="1.6" rx="0.8" fill="rgb(165,165,165)" filter="url(#bl)"/>
<rect x="331.2" y="221.25" width="9.4" height="1.8" rx="0.8" fill="rgb(100,100,100)" filter="url(#bl)"/>
<rect x="342.8" y="221.25" width="9.4" height="1.8" rx="0.8" fill="rgb(90,90,90)" filter="url(#bl)"/>
<text x="270" y="237.7" font-size="7.55">UQCRC2</text>
<rect x="303.5" y="230.1" width="54" height="9" fill="#f6f6f6" stroke="#1e1e1e" stroke-width="1"/>
<rect x="309.5" y="234.35" width="9.4" height="1.7" rx="0.8" fill="rgb(120,120,120)" filter="url(#bl)"/>
<rect x="320.1" y="234.4" width="9.4" height="1.6" rx="0.8" fill="rgb(165,165,165)" filter="url(#bl)"/>
<rect x="331.2" y="234.2" width="9.4" height="2" rx="0.8" fill="rgb(60,60,60)" filter="url(#bl)"/>
<rect x="342.8" y="234.2" width="9.4" height="2" rx="0.8" fill="rgb(60,60,60)" filter="url(#bl)"/>
<text x="270" y="250.75" font-size="7.55">MTCO1</text>
<rect x="303.5" y="243.15" width="54" height="9" fill="#f6f6f6" stroke="#1e1e1e" stroke-width="1"/>
<rect x="309.5" y="247.05" width="9.4" height="2.4" rx="0.8" fill="rgb(90,90,90)" filter="url(#bl)"/>
<rect x="320.1" y="247.25" width="9.4" height="2" rx="0.8" fill="rgb(165,165,165)" filter="url(#bl)"/>
<rect x="331.2" y="246.75" width="9.4" height="3" rx="0.8" fill="rgb(40,40,40)" filter="url(#bl)"/>
<rect x="342.8" y="247.05" width="9.4" height="2.4" rx="0.8" fill="rgb(75,75,75)" filter="url(#bl)"/>
<text x="270" y="263.8" font-size="7.55">ATP5B</text>
<rect x="303.5" y="256.2" width="54" height="9" fill="#f6f6f6" stroke="#1e1e1e" stroke-width="1"/>
<rect x="309.5" y="260.4" width="9.4" height="1.8" rx="0.8" fill="rgb(110,110,110)" filter="url(#bl)"/>
<rect x="320.1" y="260.5" width="9.4" height="1.6" rx="0.8" fill="rgb(150,150,150)" filter="url(#bl)"/>
<rect x="331.2" y="260.3" width="9.4" height="2" rx="0.8" fill="rgb(50,50,50)" filter="url(#bl)"/>
<rect x="342.8" y="260.3" width="9.4" height="2" rx="0.8" fill="rgb(50,50,50)" filter="url(#bl)"/>
<text x="270" y="276.85" font-size="7.55">ACTIN</text>
<rect x="303.5" y="269.25" width="54" height="9" fill="#f6f6f6" stroke="#1e1e1e" stroke-width="1"/>
<rect x="309.5" y="273.35" width="9.4" height="2" rx="0.8" fill="rgb(40,40,40)" filter="url(#bl)"/>
<rect x="320.1" y="273.35" width="9.4" height="2" rx="0.8" fill="rgb(45,45,45)" filter="url(#bl)"/>
<rect x="331.2" y="273.35" width="9.4" height="2" rx="0.8" fill="rgb(40,40,40)" filter="url(#bl)"/>
<rect x="342.8" y="273.35" width="9.4" height="2" rx="0.8" fill="rgb(45,45,45)" filter="url(#bl)"/>
<text x="386" y="148.2" font-size="10.2" font-weight="bold" fill="#000" class="pl">J</text>
<text x="392.3" y="189.5" font-size="7.9" text-anchor="middle" transform="rotate(-90 392.3 189.5)" textLength="53.4" lengthAdjust="spacingAndGlyphs" class="t">Cell number (x10<tspan font-size="5" dy="-3">5</tspan><tspan dy="3">)</tspan></text>
<line x1="412.2" y1="221.3" x2="412.2" y2="158.9" stroke="#262626" stroke-width="1.25"/>
<line x1="409.6" y1="221.3" x2="412.2" y2="221.3" stroke="#262626" stroke-width="1"/>
<text x="406.3" y="223.8" font-size="7.8" text-anchor="end">0</text>
<line x1="409.6" y1="206.4" x2="412.2" y2="206.4" stroke="#262626" stroke-width="1"/>
<text x="406.3" y="208.9" font-size="7.8" text-anchor="end">5</text>
<line x1="409.6" y1="191.5" x2="412.2" y2="191.5" stroke="#262626" stroke-width="1"/>
<text x="406.3" y="194" font-size="7.8" text-anchor="end">10</text>
<line x1="409.6" y1="176.6" x2="412.2" y2="176.6" stroke="#262626" stroke-width="1"/>
<text x="406.3" y="179.1" font-size="7.8" text-anchor="end">15</text>
<line x1="409.6" y1="161.7" x2="412.2" y2="161.7" stroke="#262626" stroke-width="1"/>
<text x="406.3" y="164.2" font-size="7.8" text-anchor="end">20</text>
<rect x="419.3" y="188.52" width="13.1" height="32.78" fill="#acd896"/>
<line x1="425.85" y1="192.99" x2="425.85" y2="184.05" stroke="#369c3c" stroke-width="0.9"/>
<line x1="424.35" y1="184.05" x2="427.35" y2="184.05" stroke="#369c3c" stroke-width="0.9"/>
<line x1="424.35" y1="192.99" x2="427.35" y2="192.99" stroke="#369c3c" stroke-width="0.9"/>
<circle cx="425.85" cy="184.05" r="1.8" fill="#a5d693" stroke="#369c3c" stroke-width="0.85"/>
<circle cx="421.85" cy="188.52" r="1.8" fill="#a5d693" stroke="#369c3c" stroke-width="0.85"/>
<circle cx="424.85" cy="190.01" r="1.8" fill="#a5d693" stroke="#369c3c" stroke-width="0.85"/>
<circle cx="427.85" cy="188.52" r="1.8" fill="#a5d693" stroke="#369c3c" stroke-width="0.85"/>
<circle cx="429.85" cy="190.01" r="1.8" fill="#a5d693" stroke="#369c3c" stroke-width="0.85"/>
<circle cx="423.85" cy="192.99" r="1.8" fill="#a5d693" stroke="#369c3c" stroke-width="0.85"/>
<circle cx="426.85" cy="191.5" r="1.8" fill="#a5d693" stroke="#369c3c" stroke-width="0.85"/>
<rect x="440" y="178.09" width="13.1" height="43.21" fill="#acd896"/>
<line x1="446.55" y1="187.03" x2="446.55" y2="169.15" stroke="#369c3c" stroke-width="0.9"/>
<line x1="445.05" y1="169.15" x2="448.05" y2="169.15" stroke="#369c3c" stroke-width="0.9"/>
<line x1="445.05" y1="187.03" x2="448.05" y2="187.03" stroke="#369c3c" stroke-width="0.9"/>
<polygon points="444.55,162.3 446.71,166.3 442.39,166.3" fill="#a5d693" stroke="#369c3c" stroke-width="0.85" stroke-linejoin="round"/>
<polygon points="449.55,166.77 451.71,170.77 447.39,170.77" fill="#a5d693" stroke="#369c3c" stroke-width="0.85" stroke-linejoin="round"/>
<polygon points="446.55,171.24 448.71,175.24 444.39,175.24" fill="#a5d693" stroke="#369c3c" stroke-width="0.85" stroke-linejoin="round"/>
<polygon points="443.55,175.71 445.71,179.71 441.39,179.71" fill="#a5d693" stroke="#369c3c" stroke-width="0.85" stroke-linejoin="round"/>
<polygon points="449.55,177.2 451.71,181.2 447.39,181.2" fill="#a5d693" stroke="#369c3c" stroke-width="0.85" stroke-linejoin="round"/>
<polygon points="446.55,183.16 448.71,187.16 444.39,187.16" fill="#a5d693" stroke="#369c3c" stroke-width="0.85" stroke-linejoin="round"/>
<polygon points="444.55,190.61 446.71,194.61 442.39,194.61" fill="#a5d693" stroke="#369c3c" stroke-width="0.85" stroke-linejoin="round"/>
<polygon points="448.55,190.61 450.71,194.61 446.39,194.61" fill="#a5d693" stroke="#369c3c" stroke-width="0.85" stroke-linejoin="round"/>
<rect x="460.4" y="203.42" width="13.1" height="17.88" fill="#8d9bc6"/>
<line x1="466.95" y1="209.38" x2="466.95" y2="197.46" stroke="#1f3d8c" stroke-width="0.9"/>
<line x1="465.45" y1="197.46" x2="468.45" y2="197.46" stroke="#1f3d8c" stroke-width="0.9"/>
<line x1="465.45" y1="209.38" x2="468.45" y2="209.38" stroke="#1f3d8c" stroke-width="0.9"/>
<circle cx="463.95" cy="194.48" r="1.8" fill="#7d8fc4" stroke="#1f3d8c" stroke-width="0.85"/>
<circle cx="468.95" cy="194.48" r="1.8" fill="#7d8fc4" stroke="#1f3d8c" stroke-width="0.85"/>
<circle cx="465.95" cy="200.44" r="1.8" fill="#7d8fc4" stroke="#1f3d8c" stroke-width="0.85"/>
<circle cx="469.95" cy="203.42" r="1.8" fill="#7d8fc4" stroke="#1f3d8c" stroke-width="0.85"/>
<circle cx="463.95" cy="206.4" r="1.8" fill="#7d8fc4" stroke="#1f3d8c" stroke-width="0.85"/>
<circle cx="467.95" cy="209.38" r="1.8" fill="#7d8fc4" stroke="#1f3d8c" stroke-width="0.85"/>
<circle cx="464.95" cy="212.36" r="1.8" fill="#7d8fc4" stroke="#1f3d8c" stroke-width="0.85"/>
<circle cx="468.95" cy="210.87" r="1.8" fill="#7d8fc4" stroke="#1f3d8c" stroke-width="0.85"/>
<rect x="480.7" y="179.58" width="13.1" height="41.72" fill="#8d9bc6"/>
<line x1="487.25" y1="184.05" x2="487.25" y2="175.11" stroke="#1f3d8c" stroke-width="0.9"/>
<line x1="485.75" y1="175.11" x2="488.75" y2="175.11" stroke="#1f3d8c" stroke-width="0.9"/>
<line x1="485.75" y1="184.05" x2="488.75" y2="184.05" stroke="#1f3d8c" stroke-width="0.9"/>
<polygon points="487.25,169.75 489.41,173.75 485.09,173.75" fill="#7d8fc4" stroke="#1f3d8c" stroke-width="0.85" stroke-linejoin="round"/>
<polygon points="484.25,174.22 486.41,178.22 482.09,178.22" fill="#7d8fc4" stroke="#1f3d8c" stroke-width="0.85" stroke-linejoin="round"/>
<polygon points="489.25,172.73 491.41,176.73 487.09,176.73" fill="#7d8fc4" stroke="#1f3d8c" stroke-width="0.85" stroke-linejoin="round"/>
<polygon points="491.25,175.71 493.41,179.71 489.09,179.71" fill="#7d8fc4" stroke="#1f3d8c" stroke-width="0.85" stroke-linejoin="round"/>
<polygon points="483.25,178.69 485.41,182.69 481.09,182.69" fill="#7d8fc4" stroke="#1f3d8c" stroke-width="0.85" stroke-linejoin="round"/>
<polygon points="487.25,180.18 489.41,184.18 485.09,184.18" fill="#7d8fc4" stroke="#1f3d8c" stroke-width="0.85" stroke-linejoin="round"/>
<polygon points="490.25,180.18 492.41,184.18 488.09,184.18" fill="#7d8fc4" stroke="#1f3d8c" stroke-width="0.85" stroke-linejoin="round"/>
<polygon points="486.25,184.65 488.41,188.65 484.09,188.65" fill="#7d8fc4" stroke="#1f3d8c" stroke-width="0.85" stroke-linejoin="round"/>
<line x1="412.2" y1="221.3" x2="500.3" y2="221.3" stroke="#262626" stroke-width="1.25"/>
<line x1="425.85" y1="221.3" x2="425.85" y2="223.8" stroke="#262626" stroke-width="1"/>
<line x1="446.55" y1="221.3" x2="446.55" y2="223.8" stroke="#262626" stroke-width="1"/>
<line x1="466.95" y1="221.3" x2="466.95" y2="223.8" stroke="#262626" stroke-width="1"/>
<line x1="487.25" y1="221.3" x2="487.25" y2="223.8" stroke="#262626" stroke-width="1"/>
<text x="425.85" y="234.2" font-size="7.5" text-anchor="middle">Vec</text>
<text x="446.55" y="234.2" font-size="7.5" text-anchor="middle">HNF4a</text>
<text x="466.95" y="234.2" font-size="7.5" text-anchor="middle">Vec</text>
<text x="487.25" y="234.2" font-size="7.5" text-anchor="middle">HNF4a</text>
<line x1="423.55" y1="238.4" x2="449.55" y2="238.4" stroke="#444" stroke-width="1"/>
<line x1="464.65" y1="238.4" x2="490.25" y2="238.4" stroke="#444" stroke-width="1"/>
<text x="436.6" y="247.2" font-size="7.5" text-anchor="middle">WT</text>
<text x="477.5" y="247.2" font-size="7.5" text-anchor="middle"><tspan font-style="italic">Tifab</tspan> KO</text>
<polyline points="425.9,152.9 425.9,150.1 467.5,150.1 467.5,152.9" fill="none" stroke="#262626" stroke-width="1"/>
<ellipse cx="445.2" cy="146.1" rx="0.75" ry="1.0" fill="#1a1a1a"/>
<ellipse cx="448.2" cy="146.1" rx="0.75" ry="1.0" fill="#1a1a1a"/>
<polyline points="425.4,182.5 425.4,158.9 439.9,158.9 439.9,161.5" fill="none" stroke="#262626" stroke-width="1"/>
<ellipse cx="431.15" cy="154.9" rx="0.75" ry="1.0" fill="#1a1a1a"/>
<ellipse cx="434.15" cy="154.9" rx="0.75" ry="1.0" fill="#1a1a1a"/>
<polyline points="470.3,196 470.3,158.6 484.5,158.6 484.5,161.5" fill="none" stroke="#262626" stroke-width="1"/>
<ellipse cx="475.9" cy="154.6" rx="0.75" ry="1.0" fill="#1a1a1a"/>
<ellipse cx="478.9" cy="154.6" rx="0.75" ry="1.0" fill="#1a1a1a"/>
<text x="7.2" y="288.7" font-size="10.2" font-weight="bold" fill="#000" class="pl">G</text>
<line x1="37.9" y1="370.3" x2="37.9" y2="298.3" stroke="#262626" stroke-width="1.25"/>
<line x1="35.3" y1="367.9" x2="37.9" y2="367.9" stroke="#262626" stroke-width="1"/>
<text x="32.5" y="370.4" font-size="7.8" text-anchor="end">0</text>
<line x1="35.3" y1="351.2" x2="37.9" y2="351.2" stroke="#262626" stroke-width="1"/>
<text x="32.5" y="353.7" font-size="7.8" text-anchor="end">100</text>
<line x1="35.3" y1="334.5" x2="37.9" y2="334.5" stroke="#262626" stroke-width="1"/>
<text x="32.5" y="337" font-size="7.8" text-anchor="end">200</text>
<line x1="35.3" y1="317.8" x2="37.9" y2="317.8" stroke="#262626" stroke-width="1"/>
<text x="32.5" y="320.3" font-size="7.8" text-anchor="end">300</text>
<line x1="35.3" y1="301.1" x2="37.9" y2="301.1" stroke="#262626" stroke-width="1"/>
<text x="32.5" y="303.6" font-size="7.8" text-anchor="end">400</text>
<text x="13.5" y="331" font-size="7.9" text-anchor="middle" transform="rotate(-90 13.5 331)" textLength="40" lengthAdjust="spacingAndGlyphs" class="t">OCR (pmol/min)</text>
<line x1="37.9" y1="367.9" x2="139.8" y2="367.9" stroke="#262626" stroke-width="1.25"/>
<line x1="37.9" y1="367.9" x2="37.9" y2="370.4" stroke="#262626" stroke-width="1"/>
<line x1="62.95" y1="367.9" x2="62.95" y2="370.4" stroke="#262626" stroke-width="1"/>
<line x1="88" y1="367.9" x2="88" y2="370.4" stroke="#262626" stroke-width="1"/>
<line x1="113.05" y1="367.9" x2="113.05" y2="370.4" stroke="#262626" stroke-width="1"/>
<line x1="138.1" y1="367.9" x2="138.1" y2="370.4" stroke="#262626" stroke-width="1"/>
<text x="37.9" y="380" font-size="7.9" text-anchor="middle">0</text>
<text x="62.95" y="380" font-size="7.9" text-anchor="middle">20</text>
<text x="88" y="380" font-size="7.9" text-anchor="middle">40</text>
<text x="113.05" y="380" font-size="7.9" text-anchor="middle">60</text>
<text x="138.1" y="380" font-size="7.9" text-anchor="middle">80</text>
<text x="89.4" y="391.6" font-size="7.6" text-anchor="middle" textLength="42" lengthAdjust="spacingAndGlyphs" class="t">Time (minutes)</text>
<polyline points="39.03,350.2 47.67,351.2 56.06,351.2 64.08,359.88 72.09,359.88 79.98,359.88 88.25,340.51 96.14,340.18 104.41,340.51 112.55,363.89 120.44,364.23 128.71,364.23" fill="none" stroke="#3c5ca8" stroke-width="1.1"/>
<circle cx="39.03" cy="350.2" r="1.75" fill="#6680c2" stroke="#2a4790" stroke-width="0.75"/>
<circle cx="47.67" cy="351.2" r="1.75" fill="#6680c2" stroke="#2a4790" stroke-width="0.75"/>
<circle cx="56.06" cy="351.2" r="1.75" fill="#6680c2" stroke="#2a4790" stroke-width="0.75"/>
<circle cx="64.08" cy="359.88" r="1.75" fill="#6680c2" stroke="#2a4790" stroke-width="0.75"/>
<circle cx="72.09" cy="359.88" r="1.75" fill="#6680c2" stroke="#2a4790" stroke-width="0.75"/>
<circle cx="79.98" cy="359.88" r="1.75" fill="#6680c2" stroke="#2a4790" stroke-width="0.75"/>
<circle cx="88.25" cy="340.51" r="1.75" fill="#6680c2" stroke="#2a4790" stroke-width="0.75"/>
<circle cx="96.14" cy="340.18" r="1.75" fill="#6680c2" stroke="#2a4790" stroke-width="0.75"/>
<circle cx="104.41" cy="340.51" r="1.75" fill="#6680c2" stroke="#2a4790" stroke-width="0.75"/>
<circle cx="112.55" cy="363.89" r="1.75" fill="#6680c2" stroke="#2a4790" stroke-width="0.75"/>
<circle cx="120.44" cy="364.23" r="1.75" fill="#6680c2" stroke="#2a4790" stroke-width="0.75"/>
<circle cx="128.71" cy="364.23" r="1.75" fill="#6680c2" stroke="#2a4790" stroke-width="0.75"/>
<polyline points="39.03,343.35 47.67,344.52 56.06,344.52 64.08,357.88 72.09,357.88 79.98,357.88 88.25,331.16 96.14,329.66 104.41,331.16 112.55,363.56 120.44,363.89 128.71,363.89" fill="none" stroke="#78c46c" stroke-width="1.1"/>
<circle cx="39.03" cy="343.35" r="1.75" fill="#9dd690" stroke="#3f9f3f" stroke-width="0.75"/>
<circle cx="47.67" cy="344.52" r="1.75" fill="#9dd690" stroke="#3f9f3f" stroke-width="0.75"/>
<circle cx="56.06" cy="344.52" r="1.75" fill="#9dd690" stroke="#3f9f3f" stroke-width="0.75"/>
<circle cx="64.08" cy="357.88" r="1.75" fill="#9dd690" stroke="#3f9f3f" stroke-width="0.75"/>
<circle cx="72.09" cy="357.88" r="1.75" fill="#9dd690" stroke="#3f9f3f" stroke-width="0.75"/>
<circle cx="79.98" cy="357.88" r="1.75" fill="#9dd690" stroke="#3f9f3f" stroke-width="0.75"/>
<circle cx="88.25" cy="331.16" r="1.75" fill="#9dd690" stroke="#3f9f3f" stroke-width="0.75"/>
<circle cx="96.14" cy="329.66" r="1.75" fill="#9dd690" stroke="#3f9f3f" stroke-width="0.75"/>
<circle cx="104.41" cy="331.16" r="1.75" fill="#9dd690" stroke="#3f9f3f" stroke-width="0.75"/>
<circle cx="112.55" cy="363.56" r="1.75" fill="#9dd690" stroke="#3f9f3f" stroke-width="0.75"/>
<circle cx="120.44" cy="363.89" r="1.75" fill="#9dd690" stroke="#3f9f3f" stroke-width="0.75"/>
<circle cx="128.71" cy="363.89" r="1.75" fill="#9dd690" stroke="#3f9f3f" stroke-width="0.75"/>
<polyline points="39.03,340.01 47.67,340.85 56.06,341.35 64.08,356.88 72.09,356.88 79.98,356.88 88.25,324.48 96.14,322.48 104.41,322.48 112.55,363.39 120.44,363.72 128.71,363.72" fill="none" stroke="#2f4f9a" stroke-width="1.1"/>
<polygon points="39.03,337.77 41.07,341.54 36.99,341.54" fill="#4560a8" stroke="#1f3a7a" stroke-width="0.75" stroke-linejoin="round"/>
<polygon points="47.67,338.6 49.71,342.38 45.63,342.38" fill="#4560a8" stroke="#1f3a7a" stroke-width="0.75" stroke-linejoin="round"/>
<polygon points="56.06,339.1 58.1,342.88 54.02,342.88" fill="#4560a8" stroke="#1f3a7a" stroke-width="0.75" stroke-linejoin="round"/>
<polygon points="64.08,354.63 66.12,358.41 62.04,358.41" fill="#4560a8" stroke="#1f3a7a" stroke-width="0.75" stroke-linejoin="round"/>
<polygon points="72.09,354.63 74.13,358.41 70.05,358.41" fill="#4560a8" stroke="#1f3a7a" stroke-width="0.75" stroke-linejoin="round"/>
<polygon points="79.98,354.63 82.02,358.41 77.94,358.41" fill="#4560a8" stroke="#1f3a7a" stroke-width="0.75" stroke-linejoin="round"/>
<line x1="88.25" y1="321.97" x2="88.25" y2="326.98" stroke="#1f3a7a" stroke-width="0.8"/>
<line x1="87.05" y1="321.97" x2="89.45" y2="321.97" stroke="#1f3a7a" stroke-width="0.8"/>
<polygon points="88.25,322.24 90.29,326.01 86.21,326.01" fill="#4560a8" stroke="#1f3a7a" stroke-width="0.75" stroke-linejoin="round"/>
<line x1="96.14" y1="319.97" x2="96.14" y2="324.98" stroke="#1f3a7a" stroke-width="0.8"/>
<line x1="94.94" y1="319.97" x2="97.34" y2="319.97" stroke="#1f3a7a" stroke-width="0.8"/>
<polygon points="96.14,320.23 98.18,324.01 94.1,324.01" fill="#4560a8" stroke="#1f3a7a" stroke-width="0.75" stroke-linejoin="round"/>
<line x1="104.41" y1="319.97" x2="104.41" y2="324.98" stroke="#1f3a7a" stroke-width="0.8"/>
<line x1="103.21" y1="319.97" x2="105.61" y2="319.97" stroke="#1f3a7a" stroke-width="0.8"/>
<polygon points="104.41,320.23 106.45,324.01 102.37,324.01" fill="#4560a8" stroke="#1f3a7a" stroke-width="0.75" stroke-linejoin="round"/>
<polygon points="112.55,361.15 114.59,364.92 110.51,364.92" fill="#4560a8" stroke="#1f3a7a" stroke-width="0.75" stroke-linejoin="round"/>
<polygon points="120.44,361.48 122.48,365.25 118.4,365.25" fill="#4560a8" stroke="#1f3a7a" stroke-width="0.75" stroke-linejoin="round"/>
<polygon points="128.71,361.48 130.75,365.25 126.67,365.25" fill="#4560a8" stroke="#1f3a7a" stroke-width="0.75" stroke-linejoin="round"/>
<polyline points="39.03,337.17 47.67,339.18 56.06,340.01 64.08,354.87 72.09,354.87 79.98,354.87 88.25,323.14 96.14,315.63 104.41,315.13 112.55,363.22 120.44,363.56 128.71,363.56" fill="none" stroke="#45a845" stroke-width="1.1"/>
<line x1="39.03" y1="335.84" x2="39.03" y2="338.51" stroke="#2f8f2f" stroke-width="0.8"/>
<line x1="37.83" y1="335.84" x2="40.23" y2="335.84" stroke="#2f8f2f" stroke-width="0.8"/>
<polygon points="39.03,334.93 41.07,338.7 36.99,338.7" fill="#62bb5c" stroke="#2f8f2f" stroke-width="0.75" stroke-linejoin="round"/>
<line x1="47.67" y1="337.84" x2="47.67" y2="340.51" stroke="#2f8f2f" stroke-width="0.8"/>
<line x1="46.47" y1="337.84" x2="48.87" y2="337.84" stroke="#2f8f2f" stroke-width="0.8"/>
<polygon points="47.67,336.93 49.71,340.71 45.63,340.71" fill="#62bb5c" stroke="#2f8f2f" stroke-width="0.75" stroke-linejoin="round"/>
<line x1="56.06" y1="338.67" x2="56.06" y2="341.35" stroke="#2f8f2f" stroke-width="0.8"/>
<line x1="54.86" y1="338.67" x2="57.26" y2="338.67" stroke="#2f8f2f" stroke-width="0.8"/>
<polygon points="56.06,337.77 58.1,341.54 54.02,341.54" fill="#62bb5c" stroke="#2f8f2f" stroke-width="0.75" stroke-linejoin="round"/>
<line x1="64.08" y1="354.04" x2="64.08" y2="355.71" stroke="#2f8f2f" stroke-width="0.8"/>
<line x1="62.88" y1="354.04" x2="65.28" y2="354.04" stroke="#2f8f2f" stroke-width="0.8"/>
<polygon points="64.08,352.63 66.12,356.4 62.04,356.4" fill="#62bb5c" stroke="#2f8f2f" stroke-width="0.75" stroke-linejoin="round"/>
<line x1="72.09" y1="354.04" x2="72.09" y2="355.71" stroke="#2f8f2f" stroke-width="0.8"/>
<line x1="70.89" y1="354.04" x2="73.29" y2="354.04" stroke="#2f8f2f" stroke-width="0.8"/>
<polygon points="72.09,352.63 74.13,356.4 70.05,356.4" fill="#62bb5c" stroke="#2f8f2f" stroke-width="0.75" stroke-linejoin="round"/>
<line x1="79.98" y1="354.04" x2="79.98" y2="355.71" stroke="#2f8f2f" stroke-width="0.8"/>
<line x1="78.78" y1="354.04" x2="81.18" y2="354.04" stroke="#2f8f2f" stroke-width="0.8"/>
<polygon points="79.98,352.63 82.02,356.4 77.94,356.4" fill="#62bb5c" stroke="#2f8f2f" stroke-width="0.75" stroke-linejoin="round"/>
<line x1="88.25" y1="319.8" x2="88.25" y2="326.48" stroke="#2f8f2f" stroke-width="0.8"/>
<line x1="87.05" y1="319.8" x2="89.45" y2="319.8" stroke="#2f8f2f" stroke-width="0.8"/>
<polygon points="88.25,320.9 90.29,324.67 86.21,324.67" fill="#62bb5c" stroke="#2f8f2f" stroke-width="0.75" stroke-linejoin="round"/>
<line x1="96.14" y1="312.29" x2="96.14" y2="318.97" stroke="#2f8f2f" stroke-width="0.8"/>
<line x1="94.94" y1="312.29" x2="97.34" y2="312.29" stroke="#2f8f2f" stroke-width="0.8"/>
<polygon points="96.14,313.38 98.18,317.16 94.1,317.16" fill="#62bb5c" stroke="#2f8f2f" stroke-width="0.75" stroke-linejoin="round"/>
<line x1="104.41" y1="311.79" x2="104.41" y2="318.47" stroke="#2f8f2f" stroke-width="0.8"/>
<line x1="103.21" y1="311.79" x2="105.61" y2="311.79" stroke="#2f8f2f" stroke-width="0.8"/>
<polygon points="104.41,312.88 106.45,316.66 102.37,316.66" fill="#62bb5c" stroke="#2f8f2f" stroke-width="0.75" stroke-linejoin="round"/>
<line x1="112.55" y1="362.39" x2="112.55" y2="364.06" stroke="#2f8f2f" stroke-width="0.8"/>
<line x1="111.35" y1="362.39" x2="113.75" y2="362.39" stroke="#2f8f2f" stroke-width="0.8"/>
<polygon points="112.55,360.98 114.59,364.75 110.51,364.75" fill="#62bb5c" stroke="#2f8f2f" stroke-width="0.75" stroke-linejoin="round"/>
<line x1="120.44" y1="362.72" x2="120.44" y2="364.39" stroke="#2f8f2f" stroke-width="0.8"/>
<line x1="119.24" y1="362.72" x2="121.64" y2="362.72" stroke="#2f8f2f" stroke-width="0.8"/>
<polygon points="120.44,361.31 122.48,365.09 118.4,365.09" fill="#62bb5c" stroke="#2f8f2f" stroke-width="0.75" stroke-linejoin="round"/>
<line x1="128.71" y1="362.72" x2="128.71" y2="364.39" stroke="#2f8f2f" stroke-width="0.8"/>
<line x1="127.51" y1="362.72" x2="129.91" y2="362.72" stroke="#2f8f2f" stroke-width="0.8"/>
<polygon points="128.71,361.31 130.75,365.09 126.67,365.09" fill="#62bb5c" stroke="#2f8f2f" stroke-width="0.75" stroke-linejoin="round"/>
<text x="40.3" y="311" font-size="7.2">Oligomycin</text>
<line x1="57" y1="313" x2="57" y2="332.5" stroke="#262626" stroke-width="0.8"/>
<polygon points="55.3,330.8 58.7,330.8 57,335" fill="#222"/>
<text x="64.8" y="335.4" font-size="7.2">FCCP</text>
<line x1="78.2" y1="337.5" x2="78.2" y2="348.5" stroke="#262626" stroke-width="0.8"/>
<polygon points="76.5,346.8 79.9,346.8 78.2,351" fill="#222"/>
<text x="83.7" y="289.7" font-size="7.2">rotenone/</text>
<text x="83.7" y="298.4" font-size="7">antimycin A</text>
<line x1="104.4" y1="300.5" x2="104.4" y2="303.5" stroke="#262626" stroke-width="0.8"/>
<polygon points="102.7,302.2 106.1,302.2 104.4,306.4" fill="#222"/>
<text x="158.2" y="288.7" font-size="10.2" font-weight="bold" fill="#000" class="pl">H</text>
<line x1="184" y1="369.8" x2="184" y2="298" stroke="#262626" stroke-width="1.25"/>
<line x1="181.4" y1="367.4" x2="184" y2="367.4" stroke="#262626" stroke-width="1"/>
<text x="178.5" y="369.9" font-size="7.8" text-anchor="end">0</text>
<line x1="181.4" y1="354.08" x2="184" y2="354.08" stroke="#262626" stroke-width="1"/>
<text x="178.5" y="356.58" font-size="7.8" text-anchor="end">10</text>
<line x1="181.4" y1="340.76" x2="184" y2="340.76" stroke="#262626" stroke-width="1"/>
<text x="178.5" y="343.26" font-size="7.8" text-anchor="end">20</text>
<line x1="181.4" y1="327.44" x2="184" y2="327.44" stroke="#262626" stroke-width="1"/>
<text x="178.5" y="329.94" font-size="7.8" text-anchor="end">30</text>
<line x1="181.4" y1="314.12" x2="184" y2="314.12" stroke="#262626" stroke-width="1"/>
<text x="178.5" y="316.62" font-size="7.8" text-anchor="end">40</text>
<line x1="181.4" y1="300.8" x2="184" y2="300.8" stroke="#262626" stroke-width="1"/>
<text x="178.5" y="303.3" font-size="7.8" text-anchor="end">50</text>
<text x="163.8" y="331.7" font-size="7.9" text-anchor="middle" transform="rotate(-90 163.8 331.7)" textLength="47.5" lengthAdjust="spacingAndGlyphs" class="t">ECAR (mpH/min)</text>
<line x1="184" y1="367.4" x2="285.8" y2="367.4" stroke="#262626" stroke-width="1.25"/>
<line x1="184.1" y1="367.4" x2="184.1" y2="369.9" stroke="#262626" stroke-width="1"/>
<line x1="209.08" y1="367.4" x2="209.08" y2="369.9" stroke="#262626" stroke-width="1"/>
<line x1="234.06" y1="367.4" x2="234.06" y2="369.9" stroke="#262626" stroke-width="1"/>
<line x1="259.04" y1="367.4" x2="259.04" y2="369.9" stroke="#262626" stroke-width="1"/>
<line x1="284.02" y1="367.4" x2="284.02" y2="369.9" stroke="#262626" stroke-width="1"/>
<text x="184.1" y="380" font-size="7.9" text-anchor="middle">0</text>
<text x="209.08" y="380" font-size="7.9" text-anchor="middle">20</text>
<text x="234.06" y="380" font-size="7.9" text-anchor="middle">40</text>
<text x="259.04" y="380" font-size="7.9" text-anchor="middle">60</text>
<text x="284.02" y="380" font-size="7.9" text-anchor="middle">80</text>
<text x="235.4" y="391.6" font-size="7.6" text-anchor="middle" textLength="42" lengthAdjust="spacingAndGlyphs" class="t">Time (minutes)</text>
<polyline points="186.1,362.07 194.34,362.07 202.71,362.07 210.83,334.9 218.82,335.43 227.32,337.03 235.81,335.96 244.3,337.7 252.17,337.7 259.79,362.07 268.41,363.4 277.15,364.07" fill="none" stroke="#3c5ca8" stroke-width="1.1"/>
<circle cx="186.1" cy="362.07" r="1.75" fill="#6680c2" stroke="#2a4790" stroke-width="0.75"/>
<circle cx="194.34" cy="362.07" r="1.75" fill="#6680c2" stroke="#2a4790" stroke-width="0.75"/>
<circle cx="202.71" cy="362.07" r="1.75" fill="#6680c2" stroke="#2a4790" stroke-width="0.75"/>
<circle cx="210.83" cy="334.9" r="1.75" fill="#6680c2" stroke="#2a4790" stroke-width="0.75"/>
<circle cx="218.82" cy="335.43" r="1.75" fill="#6680c2" stroke="#2a4790" stroke-width="0.75"/>
<circle cx="227.32" cy="337.03" r="1.75" fill="#6680c2" stroke="#2a4790" stroke-width="0.75"/>
<circle cx="235.81" cy="335.96" r="1.75" fill="#6680c2" stroke="#2a4790" stroke-width="0.75"/>
<circle cx="244.3" cy="337.7" r="1.75" fill="#6680c2" stroke="#2a4790" stroke-width="0.75"/>
<circle cx="252.17" cy="337.7" r="1.75" fill="#6680c2" stroke="#2a4790" stroke-width="0.75"/>
<circle cx="259.79" cy="362.07" r="1.75" fill="#6680c2" stroke="#2a4790" stroke-width="0.75"/>
<circle cx="268.41" cy="363.4" r="1.75" fill="#6680c2" stroke="#2a4790" stroke-width="0.75"/>
<circle cx="277.15" cy="364.07" r="1.75" fill="#6680c2" stroke="#2a4790" stroke-width="0.75"/>
<polyline points="186.1,360.74 194.34,361.41 202.71,361.41 210.83,329.04 218.82,329.04 227.32,329.04 235.81,326.37 244.3,327.97 252.17,329.57 259.79,360.74 268.41,362.74 277.15,363.4" fill="none" stroke="#78c46c" stroke-width="1.1"/>
<circle cx="186.1" cy="360.74" r="1.75" fill="#9dd690" stroke="#3f9f3f" stroke-width="0.75"/>
<circle cx="194.34" cy="361.41" r="1.75" fill="#9dd690" stroke="#3f9f3f" stroke-width="0.75"/>
<circle cx="202.71" cy="361.41" r="1.75" fill="#9dd690" stroke="#3f9f3f" stroke-width="0.75"/>
<circle cx="210.83" cy="329.04" r="1.75" fill="#9dd690" stroke="#3f9f3f" stroke-width="0.75"/>
<circle cx="218.82" cy="329.04" r="1.75" fill="#9dd690" stroke="#3f9f3f" stroke-width="0.75"/>
<circle cx="227.32" cy="329.04" r="1.75" fill="#9dd690" stroke="#3f9f3f" stroke-width="0.75"/>
<circle cx="235.81" cy="326.37" r="1.75" fill="#9dd690" stroke="#3f9f3f" stroke-width="0.75"/>
<circle cx="244.3" cy="327.97" r="1.75" fill="#9dd690" stroke="#3f9f3f" stroke-width="0.75"/>
<circle cx="252.17" cy="329.57" r="1.75" fill="#9dd690" stroke="#3f9f3f" stroke-width="0.75"/>
<circle cx="259.79" cy="360.74" r="1.75" fill="#9dd690" stroke="#3f9f3f" stroke-width="0.75"/>
<circle cx="268.41" cy="362.74" r="1.75" fill="#9dd690" stroke="#3f9f3f" stroke-width="0.75"/>
<circle cx="277.15" cy="363.4" r="1.75" fill="#9dd690" stroke="#3f9f3f" stroke-width="0.75"/>
<polyline points="186.1,361.41 194.34,361.41 202.71,361.41 210.83,325.31 218.82,324.78 227.32,326.37 235.81,322.25 244.3,323.84 252.17,326.37 259.79,360.74 268.41,362.07 277.15,363.4" fill="none" stroke="#2f4f9a" stroke-width="1.1"/>
<polygon points="186.1,359.16 188.14,362.94 184.06,362.94" fill="#4560a8" stroke="#1f3a7a" stroke-width="0.75" stroke-linejoin="round"/>
<polygon points="194.34,359.16 196.38,362.94 192.3,362.94" fill="#4560a8" stroke="#1f3a7a" stroke-width="0.75" stroke-linejoin="round"/>
<polygon points="202.71,359.16 204.75,362.94 200.67,362.94" fill="#4560a8" stroke="#1f3a7a" stroke-width="0.75" stroke-linejoin="round"/>
<line x1="210.83" y1="322.64" x2="210.83" y2="327.97" stroke="#1f3a7a" stroke-width="0.8"/>
<line x1="209.63" y1="322.64" x2="212.03" y2="322.64" stroke="#1f3a7a" stroke-width="0.8"/>
<polygon points="210.83,323.06 212.87,326.84 208.79,326.84" fill="#4560a8" stroke="#1f3a7a" stroke-width="0.75" stroke-linejoin="round"/>
<line x1="218.82" y1="322.11" x2="218.82" y2="327.44" stroke="#1f3a7a" stroke-width="0.8"/>
<line x1="217.62" y1="322.11" x2="220.02" y2="322.11" stroke="#1f3a7a" stroke-width="0.8"/>
<polygon points="218.82,322.53 220.86,326.31 216.78,326.31" fill="#4560a8" stroke="#1f3a7a" stroke-width="0.75" stroke-linejoin="round"/>
<line x1="227.32" y1="323.71" x2="227.32" y2="329.04" stroke="#1f3a7a" stroke-width="0.8"/>
<line x1="226.12" y1="323.71" x2="228.52" y2="323.71" stroke="#1f3a7a" stroke-width="0.8"/>
<polygon points="227.32,324.13 229.36,327.9 225.28,327.9" fill="#4560a8" stroke="#1f3a7a" stroke-width="0.75" stroke-linejoin="round"/>
<line x1="235.81" y1="319.58" x2="235.81" y2="324.91" stroke="#1f3a7a" stroke-width="0.8"/>
<line x1="234.61" y1="319.58" x2="237.01" y2="319.58" stroke="#1f3a7a" stroke-width="0.8"/>
<polygon points="235.81,320 237.85,323.78 233.77,323.78" fill="#4560a8" stroke="#1f3a7a" stroke-width="0.75" stroke-linejoin="round"/>
<line x1="244.3" y1="321.18" x2="244.3" y2="326.51" stroke="#1f3a7a" stroke-width="0.8"/>
<line x1="243.1" y1="321.18" x2="245.5" y2="321.18" stroke="#1f3a7a" stroke-width="0.8"/>
<polygon points="244.3,321.6 246.34,325.37 242.26,325.37" fill="#4560a8" stroke="#1f3a7a" stroke-width="0.75" stroke-linejoin="round"/>
<line x1="252.17" y1="323.71" x2="252.17" y2="329.04" stroke="#1f3a7a" stroke-width="0.8"/>
<line x1="250.97" y1="323.71" x2="253.37" y2="323.71" stroke="#1f3a7a" stroke-width="0.8"/>
<polygon points="252.17,324.13 254.21,327.9 250.13,327.9" fill="#4560a8" stroke="#1f3a7a" stroke-width="0.75" stroke-linejoin="round"/>
<polygon points="259.79,358.5 261.83,362.27 257.75,362.27" fill="#4560a8" stroke="#1f3a7a" stroke-width="0.75" stroke-linejoin="round"/>
<polygon points="268.41,359.83 270.45,363.6 266.37,363.6" fill="#4560a8" stroke="#1f3a7a" stroke-width="0.75" stroke-linejoin="round"/>
<polygon points="277.15,361.16 279.19,364.93 275.11,364.93" fill="#4560a8" stroke="#1f3a7a" stroke-width="0.75" stroke-linejoin="round"/>
<polyline points="186.1,360.07 194.34,360.74 202.71,360.74 210.83,323.18 218.82,321.58 227.32,322.78 235.81,316.25 244.3,318.52 252.17,319.45 259.79,358.74 268.41,360.74 277.15,362.07" fill="none" stroke="#45a845" stroke-width="1.1"/>
<line x1="186.1" y1="358.08" x2="186.1" y2="362.07" stroke="#2f8f2f" stroke-width="0.8"/>
<line x1="184.9" y1="358.08" x2="187.3" y2="358.08" stroke="#2f8f2f" stroke-width="0.8"/>
<polygon points="186.1,357.83 188.14,361.6 184.06,361.6" fill="#62bb5c" stroke="#2f8f2f" stroke-width="0.75" stroke-linejoin="round"/>
<line x1="194.34" y1="358.74" x2="194.34" y2="362.74" stroke="#2f8f2f" stroke-width="0.8"/>
<line x1="193.14" y1="358.74" x2="195.54" y2="358.74" stroke="#2f8f2f" stroke-width="0.8"/>
<polygon points="194.34,358.5 196.38,362.27 192.3,362.27" fill="#62bb5c" stroke="#2f8f2f" stroke-width="0.75" stroke-linejoin="round"/>
<line x1="202.71" y1="358.74" x2="202.71" y2="362.74" stroke="#2f8f2f" stroke-width="0.8"/>
<line x1="201.51" y1="358.74" x2="203.91" y2="358.74" stroke="#2f8f2f" stroke-width="0.8"/>
<polygon points="202.71,358.5 204.75,362.27 200.67,362.27" fill="#62bb5c" stroke="#2f8f2f" stroke-width="0.75" stroke-linejoin="round"/>
<line x1="210.83" y1="319.18" x2="210.83" y2="327.17" stroke="#2f8f2f" stroke-width="0.8"/>
<line x1="209.63" y1="319.18" x2="212.03" y2="319.18" stroke="#2f8f2f" stroke-width="0.8"/>
<polygon points="210.83,320.93 212.87,324.71 208.79,324.71" fill="#62bb5c" stroke="#2f8f2f" stroke-width="0.75" stroke-linejoin="round"/>
<line x1="218.82" y1="317.58" x2="218.82" y2="325.58" stroke="#2f8f2f" stroke-width="0.8"/>
<line x1="217.62" y1="317.58" x2="220.02" y2="317.58" stroke="#2f8f2f" stroke-width="0.8"/>
<polygon points="218.82,319.34 220.86,323.11 216.78,323.11" fill="#62bb5c" stroke="#2f8f2f" stroke-width="0.75" stroke-linejoin="round"/>
<line x1="227.32" y1="318.78" x2="227.32" y2="326.77" stroke="#2f8f2f" stroke-width="0.8"/>
<line x1="226.12" y1="318.78" x2="228.52" y2="318.78" stroke="#2f8f2f" stroke-width="0.8"/>
<polygon points="227.32,320.53 229.36,324.31 225.28,324.31" fill="#62bb5c" stroke="#2f8f2f" stroke-width="0.75" stroke-linejoin="round"/>
<line x1="235.81" y1="312.26" x2="235.81" y2="320.25" stroke="#2f8f2f" stroke-width="0.8"/>
<line x1="234.61" y1="312.26" x2="237.01" y2="312.26" stroke="#2f8f2f" stroke-width="0.8"/>
<polygon points="235.81,314.01 237.85,317.78 233.77,317.78" fill="#62bb5c" stroke="#2f8f2f" stroke-width="0.75" stroke-linejoin="round"/>
<line x1="244.3" y1="314.52" x2="244.3" y2="322.51" stroke="#2f8f2f" stroke-width="0.8"/>
<line x1="243.1" y1="314.52" x2="245.5" y2="314.52" stroke="#2f8f2f" stroke-width="0.8"/>
<polygon points="244.3,316.27 246.34,320.05 242.26,320.05" fill="#62bb5c" stroke="#2f8f2f" stroke-width="0.75" stroke-linejoin="round"/>
<line x1="252.17" y1="315.45" x2="252.17" y2="323.44" stroke="#2f8f2f" stroke-width="0.8"/>
<line x1="250.97" y1="315.45" x2="253.37" y2="315.45" stroke="#2f8f2f" stroke-width="0.8"/>
<polygon points="252.17,317.2 254.21,320.98 250.13,320.98" fill="#62bb5c" stroke="#2f8f2f" stroke-width="0.75" stroke-linejoin="round"/>
<line x1="259.79" y1="356.74" x2="259.79" y2="360.74" stroke="#2f8f2f" stroke-width="0.8"/>
<line x1="258.59" y1="356.74" x2="260.99" y2="356.74" stroke="#2f8f2f" stroke-width="0.8"/>
<polygon points="259.79,356.5 261.83,360.27 257.75,360.27" fill="#62bb5c" stroke="#2f8f2f" stroke-width="0.75" stroke-linejoin="round"/>
<line x1="268.41" y1="358.74" x2="268.41" y2="362.74" stroke="#2f8f2f" stroke-width="0.8"/>
<line x1="267.21" y1="358.74" x2="269.61" y2="358.74" stroke="#2f8f2f" stroke-width="0.8"/>
<polygon points="268.41,358.5 270.45,362.27 266.37,362.27" fill="#62bb5c" stroke="#2f8f2f" stroke-width="0.75" stroke-linejoin="round"/>
<line x1="277.15" y1="360.07" x2="277.15" y2="364.07" stroke="#2f8f2f" stroke-width="0.8"/>
<line x1="275.95" y1="360.07" x2="278.35" y2="360.07" stroke="#2f8f2f" stroke-width="0.8"/>
<polygon points="277.15,359.83 279.19,363.6 275.11,363.6" fill="#62bb5c" stroke="#2f8f2f" stroke-width="0.75" stroke-linejoin="round"/>
<text x="185.6" y="311" font-size="7.2">Glucose</text>
<line x1="202.4" y1="313.7" x2="202.4" y2="342" stroke="#262626" stroke-width="0.8"/>
<polygon points="200.7,340.5 204.1,340.5 202.4,344.7" fill="#222"/>
<text x="210" y="293.7" font-size="7.2">Oligomycin</text>
<line x1="225.7" y1="296" x2="225.7" y2="309" stroke="#262626" stroke-width="0.8"/>
<polygon points="224,307.5 227.4,307.5 225.7,311.7" fill="#222"/>
<text x="248.6" y="304.4" font-size="7.2">2-DG</text>
<polygon points="250.3,306 253.7,306 252,310.2" fill="#222"/>
<line x1="284.8" y1="325.4" x2="292.4" y2="325.4" stroke="#78c46c" stroke-width="1.1"/>
<circle cx="288.6" cy="325.4" r="2" fill="#9dd690" stroke="#3f9f3f" stroke-width="0.8"/>
<text x="299.6" y="327.9" font-size="7">Vec</text>
<line x1="284.8" y1="334.6" x2="292.4" y2="334.6" stroke="#45a845" stroke-width="1.1"/>
<polygon points="288.6,331.83 291.12,336.49 286.08,336.49" fill="#62bb5c" stroke="#2f8f2f" stroke-width="0.8" stroke-linejoin="round"/>
<text x="299.6" y="337.1" font-size="7">HNF4a</text>
<line x1="284.8" y1="343.5" x2="292.4" y2="343.5" stroke="#3c5ca8" stroke-width="1.1"/>
<circle cx="288.6" cy="343.5" r="2" fill="#6680c2" stroke="#2a4790" stroke-width="0.8"/>
<text x="299.6" y="346" font-size="7">Vec</text>
<line x1="284.8" y1="352.8" x2="292.4" y2="352.8" stroke="#2f4f9a" stroke-width="1.1"/>
<polygon points="288.6,350.03 291.12,354.69 286.08,354.69" fill="#4560a8" stroke="#1f3a7a" stroke-width="0.8" stroke-linejoin="round"/>
<text x="299.6" y="355.3" font-size="7">HNF4a</text>
<line x1="326.3" y1="326.6" x2="326.3" y2="334.6" stroke="#262626" stroke-width="0.9"/>
<line x1="326.3" y1="343.5" x2="326.3" y2="351.8" stroke="#262626" stroke-width="0.9"/>
<text x="330" y="332.6" font-size="7">WT</text>
<text x="330.8" y="349.6" font-size="6.6"><tspan font-style="italic">Tifab</tspan> KO</text>
<text x="384.5" y="273" font-size="10.2" font-weight="bold" fill="#000" class="pl">K</text>
<line x1="413.4" y1="369.9" x2="413.4" y2="303.8" stroke="#262626" stroke-width="1.25"/>
<line x1="410.8" y1="367.5" x2="413.4" y2="367.5" stroke="#262626" stroke-width="1"/>
<text x="407.5" y="370" font-size="7.8" text-anchor="end">0</text>
<line x1="410.8" y1="352.62" x2="413.4" y2="352.62" stroke="#262626" stroke-width="1"/>
<text x="407.5" y="355.12" font-size="7.8" text-anchor="end">25</text>
<line x1="410.8" y1="337.75" x2="413.4" y2="337.75" stroke="#262626" stroke-width="1"/>
<text x="407.5" y="340.25" font-size="7.8" text-anchor="end">50</text>
<line x1="410.8" y1="322.88" x2="413.4" y2="322.88" stroke="#262626" stroke-width="1"/>
<text x="407.5" y="325.38" font-size="7.8" text-anchor="end">75</text>
<line x1="410.8" y1="308" x2="413.4" y2="308" stroke="#262626" stroke-width="1"/>
<text x="407.5" y="310.5" font-size="7.8" text-anchor="end">100</text>
<text x="389" y="334.7" font-size="7.9" text-anchor="middle" transform="rotate(-90 389 334.7)" textLength="44.5" lengthAdjust="spacingAndGlyphs" class="t">Percent survival</text>
<line x1="413.4" y1="367.5" x2="511.5" y2="367.5" stroke="#262626" stroke-width="1.25"/>
<line x1="413.7" y1="367.5" x2="413.7" y2="370" stroke="#262626" stroke-width="1"/>
<line x1="437.42" y1="367.5" x2="437.42" y2="370" stroke="#262626" stroke-width="1"/>
<line x1="461.14" y1="367.5" x2="461.14" y2="370" stroke="#262626" stroke-width="1"/>
<line x1="484.86" y1="367.5" x2="484.86" y2="370" stroke="#262626" stroke-width="1"/>
<line x1="508.58" y1="367.5" x2="508.58" y2="370" stroke="#262626" stroke-width="1"/>
<text x="413.7" y="380" font-size="7.9" text-anchor="middle">0</text>
<text x="437.42" y="380" font-size="7.9" text-anchor="middle">20</text>
<text x="461.14" y="380" font-size="7.9" text-anchor="middle">40</text>
<text x="484.86" y="380" font-size="7.9" text-anchor="middle">60</text>
<text x="508.58" y="380" font-size="7.9" text-anchor="middle">80</text>
<text x="462" y="391.8" font-size="7.6" text-anchor="middle" textLength="14.2" lengthAdjust="spacingAndGlyphs" class="t">Days</text>
<polyline points="413.7,308 449.04,308 449.04,349.65 452.84,349.65 452.84,367.5" fill="none" stroke="#3b5ca9" stroke-width="1.1" stroke-dasharray="2.6,1.6"/>
<polyline points="413.7,308 449.75,308 449.75,322.88 450.7,322.88 450.7,337.75 451.89,337.75 451.89,343.7 453.79,343.7 453.79,367.5" fill="none" stroke="#5cbb57" stroke-width="1.1" stroke-dasharray="2.6,1.6"/>
<polyline points="413.7,308 489.25,308 489.25,322.88 490.08,322.88 490.08,337.75 495.18,337.75 495.18,352.62 498.5,352.62 498.5,367.5" fill="none" stroke="#3b5ca9" stroke-width="1"/>
<polyline points="413.7,308 446.91,308 446.91,327.81 448.69,327.81 448.69,334.42 454.38,334.42 454.38,347.69 461.38,347.69 461.38,367.5" fill="none" stroke="#5cbb57" stroke-width="1"/>
<line x1="417.2" y1="274.8" x2="431.6" y2="274.8" stroke="#5cbb57" stroke-width="1"/>
<text x="437.3" y="277.3" font-size="6.8">WT-Vec</text>
<line x1="417.2" y1="284.3" x2="431.6" y2="284.3" stroke="#5cbb57" stroke-width="1.1" stroke-dasharray="3.4,2"/>
<text x="437.3" y="286.8" font-size="6.8">WT-HNF4a</text>
<line x1="417.2" y1="293.4" x2="431.6" y2="293.4" stroke="#3b5ca9" stroke-width="1"/>
<text x="437.3" y="295.9" font-size="6.8"><tspan font-style="italic">Tifab</tspan> KO-Vec</text>
<line x1="417.2" y1="302.4" x2="431.6" y2="302.4" stroke="#3b5ca9" stroke-width="1.1" stroke-dasharray="3.4,2"/>
<text x="437.3" y="304.9" font-size="6.8"><tspan font-style="italic">Tifab</tspan>-HNF4a</text>
<line x1="490.3" y1="272.5" x2="490.3" y2="283" stroke="#262626" stroke-width="0.9"/>
<polyline points="490.3,277.5 496.2,277.5 496.2,292.2 490.3,292.2" fill="none" stroke="#262626" stroke-width="0.9"/>
<ellipse cx="499.3" cy="283.5" rx="1.0" ry="0.75" fill="#1a1a1a"/>
<ellipse cx="499.3" cy="286.5" rx="1.0" ry="0.75" fill="#1a1a1a"/>
<line x1="480.6" y1="290" x2="480.6" y2="303.6" stroke="#262626" stroke-width="0.9"/>
<ellipse cx="483.7" cy="295.6" rx="1.0" ry="0.75" fill="#1a1a1a"/>
<ellipse cx="483.7" cy="298.6" rx="1.0" ry="0.75" fill="#1a1a1a"/>
<rect x="0.5" y="0.5" width="519" height="400" fill="none" stroke="#686868" stroke-width="1"/>
</svg>
</body></html>
